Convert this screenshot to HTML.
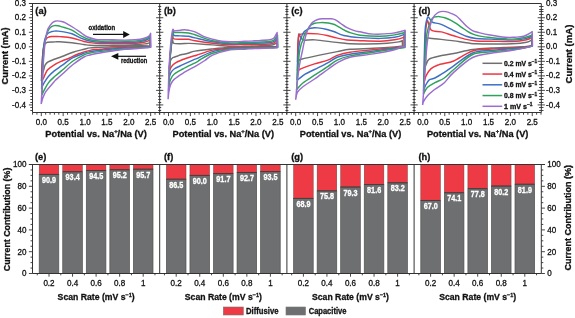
<!DOCTYPE html><html><head><meta charset="utf-8"><style>html,body{margin:0;padding:0;background:#fff;}body{width:575px;height:318px;overflow:hidden;}</style></head><body><svg width="575" height="318" viewBox="0 0 575 318" style="display:block;font-family:'Liberation Sans', sans-serif">
<rect width="575" height="318" fill="#fff"/>
<style>text{stroke:#111;stroke-width:0.3px;paint-order:stroke}text.w{stroke:#fff}</style>
<g style="will-change:transform">
<path d="M41.6,76C41.72,73.33 42.03,64.33 42.3,60C42.57,55.67 42.83,52.58 43.2,50C43.57,47.42 43.8,45.8 44.5,44.5C45.2,43.2 45.65,42.63 47.4,42.2C49.15,41.77 52.9,41.98 55,41.9C57.1,41.82 57.18,41.57 60,41.7C62.82,41.83 67.92,42.23 71.9,42.7C75.88,43.17 80.88,44.07 83.9,44.5C86.92,44.93 87.17,45.13 90,45.3C92.83,45.47 97.13,45.5 100.9,45.5C104.67,45.5 108.58,45.37 112.6,45.3C116.62,45.23 121.27,45.18 125,45.1C128.73,45.02 132.48,44.93 135,44.8C137.52,44.67 138.43,44.45 140.1,44.3C141.77,44.15 143.75,44.03 145,43.9C146.25,43.77 146.77,43.68 147.6,43.5C148.43,43.32 149.6,42.92 150,42.8L150.2,46.2C149.77,46.15 149.28,45.97 147.6,45.9C145.92,45.83 143.87,45.75 140.1,45.8C136.33,45.85 129.58,46.03 125,46.2C120.42,46.37 116.77,46.6 112.6,46.8C108.43,47 103.77,47.22 100,47.4C96.23,47.58 92.67,47.58 90,47.9C87.33,48.22 86.83,48.58 84,49.3C81.17,50.02 76.67,51 73,52.2C69.33,53.4 65.12,55.32 62,56.5C58.88,57.68 56.68,58.37 54.3,59.3C51.92,60.23 49.25,61.08 47.7,62.1C46.15,63.12 45.63,64.22 45,65.4C44.37,66.58 44.35,67.85 43.9,69.2C43.45,70.55 42.68,72.37 42.3,73.5C41.92,74.63 41.72,75.58 41.6,76" fill="none" stroke="#6f6f6f" stroke-width="1.45" stroke-linejoin="round"/>
<path d="M41.4,81C41.53,78.33 41.93,69.83 42.2,65C42.47,60.17 42.62,55.75 43,52C43.38,48.25 43.92,44.75 44.5,42.5C45.08,40.25 45.75,39.42 46.5,38.5C47.25,37.58 48.2,37.33 49,37C49.8,36.67 50.13,36.58 51.3,36.5C52.47,36.42 54.55,36.48 56,36.5C57.45,36.52 57.35,36.35 60,36.6C62.65,36.85 67.92,37.18 71.9,38C75.88,38.82 80.88,40.73 83.9,41.5C86.92,42.27 87.17,42.25 90,42.6C92.83,42.95 97.13,43.45 100.9,43.6C104.67,43.75 108.58,43.5 112.6,43.5C116.62,43.5 121.27,43.62 125,43.6C128.73,43.58 132.48,43.55 135,43.4C137.52,43.25 138.43,42.93 140.1,42.7C141.77,42.47 143.75,42.25 145,42C146.25,41.75 146.75,41.57 147.6,41.2C148.45,40.83 149.68,40.03 150.1,39.8L150.3,46.6C149.85,46.58 149.3,46.5 147.6,46.5C145.9,46.5 143.87,46.48 140.1,46.6C136.33,46.72 129.58,46.97 125,47.2C120.42,47.43 116.77,47.65 112.6,48C108.43,48.35 103.77,48.9 100,49.3C96.23,49.7 93.67,49.62 90,50.4C86.33,51.18 81.4,52.73 78,54C74.6,55.27 72.27,56.83 69.6,58C66.93,59.17 64.55,59.87 62,61C59.45,62.13 56.68,63.33 54.3,64.8C51.92,66.27 49.25,68.15 47.7,69.8C46.15,71.45 45.73,73.25 45,74.7C44.27,76.15 43.9,77.45 43.3,78.5C42.7,79.55 41.72,80.58 41.4,81" fill="none" stroke="#ec3540" stroke-width="1.45" stroke-linejoin="round"/>
<path d="M41.6,89C41.72,85.83 42.07,75.67 42.3,70C42.53,64.33 42.67,59.67 43,55C43.33,50.33 43.8,45.17 44.3,42C44.8,38.83 45.3,37.5 46,36C46.7,34.5 47.5,33.75 48.5,33C49.5,32.25 51.02,31.82 52,31.5C52.98,31.18 53.4,31.17 54.4,31.1C55.4,31.03 56.73,31.02 58,31.1C59.27,31.18 59.68,31.17 62,31.6C64.32,32.03 68.65,32.58 71.9,33.7C75.15,34.82 78.5,37.08 81.5,38.3C84.5,39.52 86.67,40.32 89.9,41C93.13,41.68 97.12,42.2 100.9,42.4C104.68,42.6 108.58,42.22 112.6,42.2C116.62,42.18 121.27,42.3 125,42.3C128.73,42.3 132.48,42.32 135,42.2C137.52,42.08 138.43,41.88 140.1,41.6C141.77,41.32 143.75,40.88 145,40.5C146.25,40.12 146.73,39.8 147.6,39.3C148.47,38.8 149.77,37.8 150.2,37.5L150.4,46.8C149.93,46.82 149.32,46.83 147.6,46.9C145.88,46.97 143.87,47.02 140.1,47.2C136.33,47.38 129.58,47.7 125,48C120.42,48.3 116.77,48.6 112.6,49C108.43,49.4 103.77,49.97 100,50.4C96.23,50.83 92.67,51.12 90,51.6C87.33,52.08 86.83,52.28 84,53.3C81.17,54.32 76.67,55.68 73,57.7C69.33,59.72 65.12,63.2 62,65.4C58.88,67.6 56.53,69.08 54.3,70.9C52.07,72.72 50.28,74.35 48.6,76.3C46.92,78.25 45.25,80.9 44.2,82.6C43.15,84.3 42.73,85.43 42.3,86.5C41.87,87.57 41.72,88.58 41.6,89" fill="none" stroke="#3f6fc3" stroke-width="1.45" stroke-linejoin="round"/>
<path d="M41.9,95.2C42.02,91.83 42.37,81.2 42.6,75C42.83,68.8 42.98,63 43.3,58C43.62,53 44.05,48.5 44.5,45C44.95,41.5 45.42,39.33 46,37C46.58,34.67 47.17,32.67 48,31C48.83,29.33 49.93,27.9 51,27C52.07,26.1 53.23,25.8 54.4,25.6C55.57,25.4 56.73,25.58 58,25.8C59.27,26.02 59.68,26.18 62,26.9C64.32,27.62 68.65,28.55 71.9,30.1C75.15,31.65 78.5,34.58 81.5,36.2C84.5,37.82 86.67,38.97 89.9,39.8C93.13,40.63 97.12,41 100.9,41.2C104.68,41.4 108.58,41 112.6,41C116.62,41 121.27,41.18 125,41.2C128.73,41.22 132.48,41.22 135,41.1C137.52,40.98 138.43,40.8 140.1,40.5C141.77,40.2 143.75,39.68 145,39.3C146.25,38.92 146.72,38.78 147.6,38.2C148.48,37.62 149.85,36.2 150.3,35.8L150.5,47C150.02,47.05 149.33,47.17 147.6,47.3C145.87,47.43 143.87,47.55 140.1,47.8C136.33,48.05 129.58,48.42 125,48.8C120.42,49.18 116.77,49.63 112.6,50.1C108.43,50.57 103.77,51.12 100,51.6C96.23,52.08 92.67,52.47 90,53C87.33,53.53 86.83,53.47 84,54.8C81.17,56.13 76.6,58.47 73,61C69.4,63.53 65.42,67.45 62.4,70C59.38,72.55 57.2,74.2 54.9,76.3C52.6,78.4 50.38,80.3 48.6,82.6C46.82,84.9 45.25,88.2 44.2,90.1C43.15,92 42.68,93.15 42.3,94C41.92,94.85 41.97,95 41.9,95.2" fill="none" stroke="#2ea25a" stroke-width="1.45" stroke-linejoin="round"/>
<path d="M41.2,104C41.37,100.83 41.83,92 42.2,85C42.57,78 42.97,68.67 43.4,62C43.83,55.33 44.28,49.67 44.8,45C45.32,40.33 45.93,36.77 46.5,34C47.07,31.23 47.27,30.25 48.2,28.4C49.13,26.55 50.97,24.08 52.1,22.9C53.23,21.72 54.08,21.63 55,21.3C55.92,20.97 56.6,20.88 57.6,20.9C58.6,20.92 59.7,21.07 61,21.4C62.3,21.73 63.35,21.88 65.4,22.9C67.45,23.92 70.62,25.8 73.3,27.5C75.98,29.2 79.13,31.52 81.5,33.1C83.87,34.68 85.25,35.98 87.5,37C89.75,38.02 92.77,38.73 95,39.2C97.23,39.67 97.97,39.7 100.9,39.8C103.83,39.9 108.58,39.75 112.6,39.8C116.62,39.85 121.27,40.1 125,40.1C128.73,40.1 132.48,39.95 135,39.8C137.52,39.65 138.43,39.5 140.1,39.2C141.77,38.9 143.75,38.37 145,38C146.25,37.63 146.85,37.42 147.6,37C148.35,36.58 149,36.12 149.5,35.5C150,34.88 150.42,33.67 150.6,33.3L150.8,47.3C150.27,47.37 149.38,47.52 147.6,47.7C145.82,47.88 143.87,48.13 140.1,48.4C136.33,48.67 129.58,48.87 125,49.3C120.42,49.73 116.77,50.38 112.6,51C108.43,51.62 103.77,52.33 100,53C96.23,53.67 92.67,54.33 90,55C87.33,55.67 86.83,55.42 84,57C81.17,58.58 75.87,62.33 73,64.5C70.13,66.67 68.98,68.03 66.8,70C64.62,71.97 61.8,74.58 59.9,76.3C58,78.02 56.65,79.05 55.4,80.3C54.15,81.55 53.97,81.95 52.4,83.8C50.83,85.65 47.58,89.08 46,91.4C44.42,93.72 43.7,95.6 42.9,97.7C42.1,99.8 41.48,102.95 41.2,104" fill="none" stroke="#9b6dce" stroke-width="1.45" stroke-linejoin="round"/>
<line x1="32.55" y1="112.5" x2="32.55" y2="114.7" stroke="#333" stroke-width="0.9"/>
<line x1="36.93" y1="112.5" x2="36.93" y2="114.7" stroke="#333" stroke-width="0.9"/>
<line x1="41.3" y1="112.5" x2="41.3" y2="116.1" stroke="#333" stroke-width="0.9"/>
<text x="41.3" y="125.4" font-size="8.5" font-weight="normal" text-anchor="middle" fill="#111" textLength="11.23" lengthAdjust="spacingAndGlyphs" >0.0</text>
<line x1="45.67" y1="112.5" x2="45.67" y2="114.7" stroke="#333" stroke-width="0.9"/>
<line x1="50.05" y1="112.5" x2="50.05" y2="114.7" stroke="#333" stroke-width="0.9"/>
<line x1="54.42" y1="112.5" x2="54.42" y2="114.7" stroke="#333" stroke-width="0.9"/>
<line x1="58.8" y1="112.5" x2="58.8" y2="114.7" stroke="#333" stroke-width="0.9"/>
<line x1="63.17" y1="112.5" x2="63.17" y2="116.1" stroke="#333" stroke-width="0.9"/>
<text x="63.17" y="125.4" font-size="8.5" font-weight="normal" text-anchor="middle" fill="#111" textLength="11.23" lengthAdjust="spacingAndGlyphs" >0.5</text>
<line x1="67.54" y1="112.5" x2="67.54" y2="114.7" stroke="#333" stroke-width="0.9"/>
<line x1="71.92" y1="112.5" x2="71.92" y2="114.7" stroke="#333" stroke-width="0.9"/>
<line x1="76.29" y1="112.5" x2="76.29" y2="114.7" stroke="#333" stroke-width="0.9"/>
<line x1="80.67" y1="112.5" x2="80.67" y2="114.7" stroke="#333" stroke-width="0.9"/>
<line x1="85.04" y1="112.5" x2="85.04" y2="116.1" stroke="#333" stroke-width="0.9"/>
<text x="85.04" y="125.4" font-size="8.5" font-weight="normal" text-anchor="middle" fill="#111" textLength="11.23" lengthAdjust="spacingAndGlyphs" >1.0</text>
<line x1="89.41" y1="112.5" x2="89.41" y2="114.7" stroke="#333" stroke-width="0.9"/>
<line x1="93.79" y1="112.5" x2="93.79" y2="114.7" stroke="#333" stroke-width="0.9"/>
<line x1="98.16" y1="112.5" x2="98.16" y2="114.7" stroke="#333" stroke-width="0.9"/>
<line x1="102.54" y1="112.5" x2="102.54" y2="114.7" stroke="#333" stroke-width="0.9"/>
<line x1="106.91" y1="112.5" x2="106.91" y2="116.1" stroke="#333" stroke-width="0.9"/>
<text x="106.91" y="125.4" font-size="8.5" font-weight="normal" text-anchor="middle" fill="#111" textLength="11.23" lengthAdjust="spacingAndGlyphs" >1.5</text>
<line x1="111.28" y1="112.5" x2="111.28" y2="114.7" stroke="#333" stroke-width="0.9"/>
<line x1="115.66" y1="112.5" x2="115.66" y2="114.7" stroke="#333" stroke-width="0.9"/>
<line x1="120.03" y1="112.5" x2="120.03" y2="114.7" stroke="#333" stroke-width="0.9"/>
<line x1="124.41" y1="112.5" x2="124.41" y2="114.7" stroke="#333" stroke-width="0.9"/>
<line x1="128.78" y1="112.5" x2="128.78" y2="116.1" stroke="#333" stroke-width="0.9"/>
<text x="128.78" y="125.4" font-size="8.5" font-weight="normal" text-anchor="middle" fill="#111" textLength="11.23" lengthAdjust="spacingAndGlyphs" >2.0</text>
<line x1="133.15" y1="112.5" x2="133.15" y2="114.7" stroke="#333" stroke-width="0.9"/>
<line x1="137.53" y1="112.5" x2="137.53" y2="114.7" stroke="#333" stroke-width="0.9"/>
<line x1="141.9" y1="112.5" x2="141.9" y2="114.7" stroke="#333" stroke-width="0.9"/>
<line x1="146.28" y1="112.5" x2="146.28" y2="114.7" stroke="#333" stroke-width="0.9"/>
<line x1="150.65" y1="112.5" x2="150.65" y2="116.1" stroke="#333" stroke-width="0.9"/>
<text x="150.65" y="125.4" font-size="8.5" font-weight="normal" text-anchor="middle" fill="#111" textLength="11.23" lengthAdjust="spacingAndGlyphs" >2.5</text>
<line x1="155.02" y1="112.5" x2="155.02" y2="114.7" stroke="#333" stroke-width="0.9"/>
<line x1="159.4" y1="112.5" x2="159.4" y2="114.7" stroke="#333" stroke-width="0.9"/>
<text x="96.1" y="136.8" font-size="9.8" font-weight="bold" text-anchor="middle" fill="#111" textLength="101.5" lengthAdjust="spacingAndGlyphs">Potential vs. Na<tspan dy="-3.6" font-size="6.2">+</tspan><tspan dy="3.6">/Na (V)</tspan></text>
<text x="35.3" y="14" font-size="9.3" font-weight="bold" text-anchor="start" fill="#111" >(a)</text>
<path d="M169.2,69C169.37,66.67 169.82,59 170.2,55C170.58,51 171.1,47.42 171.5,45C171.9,42.58 172.22,40.78 172.6,40.5C172.98,40.22 172.5,42.77 173.8,43.3C175.1,43.83 177.95,43.68 180.4,43.7C182.85,43.72 186.07,43.42 188.5,43.4C190.93,43.38 190.98,43.35 195,43.6C199.02,43.85 206.73,44.43 212.6,44.9C218.47,45.37 224.92,46.17 230.2,46.4C235.48,46.63 240.17,46.37 244.3,46.3C248.43,46.23 250.75,46.17 255,46C259.25,45.83 266.63,45.55 269.8,45.3C272.97,45.05 272.8,44.97 274,44.5C275.2,44.03 276.5,42.83 277,42.5L277.2,46.8C275.97,46.77 273.5,46.62 269.8,46.6C266.1,46.58 259.25,46.68 255,46.7C250.75,46.72 248.43,46.62 244.3,46.7C240.17,46.78 235.48,46.83 230.2,47.2C224.92,47.57 218.47,48.25 212.6,48.9C206.73,49.55 199.12,50.37 195,51.1C190.88,51.83 190.25,52.68 187.9,53.3C185.55,53.92 182.62,54.35 180.9,54.8C179.18,55.25 178.75,55.6 177.6,56C176.45,56.4 174.87,56.87 174,57.2C173.13,57.53 172.93,57.53 172.4,58C171.87,58.47 171.23,59.17 170.8,60C170.37,60.83 170.07,61.5 169.8,63C169.53,64.5 169.3,68 169.2,69" fill="none" stroke="#6f6f6f" stroke-width="1.45" stroke-linejoin="round"/>
<path d="M169,78C169.17,75 169.62,65.5 170,60C170.38,54.5 170.87,49 171.3,45C171.73,41 172.18,37.03 172.6,36C173.02,34.97 172.5,38.27 173.8,38.8C175.1,39.33 177.95,39.12 180.4,39.2C182.85,39.28 186.07,39.05 188.5,39.3C190.93,39.55 190.98,40.05 195,40.7C199.02,41.35 206.73,42.53 212.6,43.2C218.47,43.87 224.92,44.48 230.2,44.7C235.48,44.92 240.17,44.55 244.3,44.5C248.43,44.45 250.75,44.48 255,44.4C259.25,44.32 266.63,44.23 269.8,44C272.97,43.77 272.77,43.67 274,43C275.23,42.33 276.67,40.5 277.2,40L277.4,47C276.13,47 273.53,46.97 269.8,47C266.07,47.03 259.25,47.13 255,47.2C250.75,47.27 248.43,47.27 244.3,47.4C240.17,47.53 235.48,47.55 230.2,48C224.92,48.45 218.2,48.9 212.6,50.1C207,51.3 199.8,54.22 196.6,55.2C193.4,56.18 195.7,55.28 193.4,56C191.1,56.72 186.02,58.2 182.8,59.5C179.58,60.8 176.13,62.35 174.1,63.8C172.07,65.25 171.4,66.75 170.6,68.2C169.8,69.65 169.57,70.87 169.3,72.5C169.03,74.13 169.05,77.08 169,78" fill="none" stroke="#ec3540" stroke-width="1.45" stroke-linejoin="round"/>
<path d="M168.8,84C168.97,80.33 169.4,68.5 169.8,62C170.2,55.5 170.67,49.67 171.2,45C171.73,40.33 172.5,35.58 173,34C173.5,32.42 172.97,35.18 174.2,35.5C175.43,35.82 178.02,35.77 180.4,35.9C182.78,36.03 186.07,35.97 188.5,36.3C190.93,36.63 190.98,36.98 195,37.9C199.02,38.82 206.73,40.82 212.6,41.8C218.47,42.78 224.92,43.53 230.2,43.8C235.48,44.07 240.17,43.48 244.3,43.4C248.43,43.32 250.75,43.45 255,43.3C259.25,43.15 266.63,42.8 269.8,42.5C272.97,42.2 272.73,42.25 274,41.5C275.27,40.75 276.83,38.58 277.4,38L277.6,47.2C276.3,47.22 273.57,47.22 269.8,47.3C266.03,47.38 259.25,47.58 255,47.7C250.75,47.82 248.43,47.83 244.3,48C240.17,48.17 235.48,48.1 230.2,48.7C224.92,49.3 218.2,49.95 212.6,51.6C207,53.25 199.8,57.23 196.6,58.6C193.4,59.97 195.7,58.78 193.4,59.8C191.1,60.82 186.02,63.17 182.8,64.7C179.58,66.23 176.13,67.57 174.1,69C172.07,70.43 171.4,71.85 170.6,73.3C169.8,74.75 169.6,75.92 169.3,77.7C169,79.48 168.88,82.95 168.8,84" fill="none" stroke="#3f6fc3" stroke-width="1.45" stroke-linejoin="round"/>
<path d="M168.6,91C168.78,86.67 169.27,72.67 169.7,65C170.13,57.33 170.65,50.53 171.2,45C171.75,39.47 172.43,33.87 173,31.8C173.57,29.73 173.37,32.48 174.6,32.6C175.83,32.72 178.08,32.43 180.4,32.5C182.72,32.57 186.07,32.62 188.5,33C190.93,33.38 190.98,33.5 195,34.8C199.02,36.1 206.73,39.45 212.6,40.8C218.47,42.15 224.92,42.62 230.2,42.9C235.48,43.18 240.17,42.6 244.3,42.5C248.43,42.4 250.75,42.47 255,42.3C259.25,42.13 266.63,41.88 269.8,41.5C272.97,41.12 272.72,41.08 274,40C275.28,38.92 276.92,35.83 277.5,35L277.7,47.4C276.38,47.45 273.58,47.6 269.8,47.7C266.02,47.8 259.25,47.87 255,48C250.75,48.13 248.43,48.3 244.3,48.5C240.17,48.7 235.48,48.4 230.2,49.2C224.92,50 217.68,51.5 212.6,53.3C207.52,55.1 202.37,58.53 199.7,60C197.03,61.47 199.42,60.6 196.6,62.1C193.78,63.6 186.55,66.98 182.8,69C179.05,71.02 176.13,72.47 174.1,74.2C172.07,75.93 171.4,77.67 170.6,79.4C169.8,81.13 169.63,82.67 169.3,84.6C168.97,86.53 168.72,89.93 168.6,91" fill="none" stroke="#2ea25a" stroke-width="1.45" stroke-linejoin="round"/>
<path d="M168.1,99.3C168.25,94.42 168.58,79.05 169,70C169.42,60.95 170,51.63 170.6,45C171.2,38.37 171.93,32.53 172.6,30.2C173.27,27.87 173.3,31 174.6,31C175.9,31 178.73,30.4 180.4,30.2C182.07,30 183.25,29.8 184.6,29.8C185.95,29.8 186.77,29.85 188.5,30.2C190.23,30.55 192.5,30.87 195,31.9C197.5,32.93 200.57,35.18 203.5,36.4C206.43,37.62 209.52,38.4 212.6,39.2C215.68,40 219.07,40.78 222,41.2C224.93,41.62 226.48,41.68 230.2,41.7C233.92,41.72 240.17,41.45 244.3,41.3C248.43,41.15 250.75,41.05 255,40.8C259.25,40.55 266.63,40.27 269.8,39.8C272.97,39.33 272.78,39.22 274,38C275.22,36.78 276.58,33.42 277.1,32.5L277.4,47.8C276.13,47.85 273.53,47.98 269.8,48.1C266.07,48.22 259.25,48.32 255,48.5C250.75,48.68 248.43,48.98 244.3,49.2C240.17,49.42 235.48,48.82 230.2,49.8C224.92,50.78 216.83,53.32 212.6,55.1C208.37,56.88 207.47,58.75 204.8,60.5C202.13,62.25 200.27,63.47 196.6,65.6C192.93,67.73 186.55,71 182.8,73.3C179.05,75.6 176.13,77.52 174.1,79.4C172.07,81.28 171.47,82.58 170.6,84.6C169.73,86.62 169.32,89.05 168.9,91.5C168.48,93.95 168.23,98 168.1,99.3" fill="none" stroke="#9b6dce" stroke-width="1.45" stroke-linejoin="round"/>
<line x1="159.75" y1="112.5" x2="159.75" y2="114.7" stroke="#333" stroke-width="0.9"/>
<line x1="164.13" y1="112.5" x2="164.13" y2="114.7" stroke="#333" stroke-width="0.9"/>
<line x1="168.5" y1="112.5" x2="168.5" y2="116.1" stroke="#333" stroke-width="0.9"/>
<text x="168.5" y="125.4" font-size="8.5" font-weight="normal" text-anchor="middle" fill="#111" textLength="11.23" lengthAdjust="spacingAndGlyphs" >0.0</text>
<line x1="172.87" y1="112.5" x2="172.87" y2="114.7" stroke="#333" stroke-width="0.9"/>
<line x1="177.25" y1="112.5" x2="177.25" y2="114.7" stroke="#333" stroke-width="0.9"/>
<line x1="181.62" y1="112.5" x2="181.62" y2="114.7" stroke="#333" stroke-width="0.9"/>
<line x1="186" y1="112.5" x2="186" y2="114.7" stroke="#333" stroke-width="0.9"/>
<line x1="190.37" y1="112.5" x2="190.37" y2="116.1" stroke="#333" stroke-width="0.9"/>
<text x="190.37" y="125.4" font-size="8.5" font-weight="normal" text-anchor="middle" fill="#111" textLength="11.23" lengthAdjust="spacingAndGlyphs" >0.5</text>
<line x1="194.74" y1="112.5" x2="194.74" y2="114.7" stroke="#333" stroke-width="0.9"/>
<line x1="199.12" y1="112.5" x2="199.12" y2="114.7" stroke="#333" stroke-width="0.9"/>
<line x1="203.49" y1="112.5" x2="203.49" y2="114.7" stroke="#333" stroke-width="0.9"/>
<line x1="207.87" y1="112.5" x2="207.87" y2="114.7" stroke="#333" stroke-width="0.9"/>
<line x1="212.24" y1="112.5" x2="212.24" y2="116.1" stroke="#333" stroke-width="0.9"/>
<text x="212.24" y="125.4" font-size="8.5" font-weight="normal" text-anchor="middle" fill="#111" textLength="11.23" lengthAdjust="spacingAndGlyphs" >1.0</text>
<line x1="216.61" y1="112.5" x2="216.61" y2="114.7" stroke="#333" stroke-width="0.9"/>
<line x1="220.99" y1="112.5" x2="220.99" y2="114.7" stroke="#333" stroke-width="0.9"/>
<line x1="225.36" y1="112.5" x2="225.36" y2="114.7" stroke="#333" stroke-width="0.9"/>
<line x1="229.74" y1="112.5" x2="229.74" y2="114.7" stroke="#333" stroke-width="0.9"/>
<line x1="234.11" y1="112.5" x2="234.11" y2="116.1" stroke="#333" stroke-width="0.9"/>
<text x="234.11" y="125.4" font-size="8.5" font-weight="normal" text-anchor="middle" fill="#111" textLength="11.23" lengthAdjust="spacingAndGlyphs" >1.5</text>
<line x1="238.48" y1="112.5" x2="238.48" y2="114.7" stroke="#333" stroke-width="0.9"/>
<line x1="242.86" y1="112.5" x2="242.86" y2="114.7" stroke="#333" stroke-width="0.9"/>
<line x1="247.23" y1="112.5" x2="247.23" y2="114.7" stroke="#333" stroke-width="0.9"/>
<line x1="251.61" y1="112.5" x2="251.61" y2="114.7" stroke="#333" stroke-width="0.9"/>
<line x1="255.98" y1="112.5" x2="255.98" y2="116.1" stroke="#333" stroke-width="0.9"/>
<text x="255.98" y="125.4" font-size="8.5" font-weight="normal" text-anchor="middle" fill="#111" textLength="11.23" lengthAdjust="spacingAndGlyphs" >2.0</text>
<line x1="260.35" y1="112.5" x2="260.35" y2="114.7" stroke="#333" stroke-width="0.9"/>
<line x1="264.73" y1="112.5" x2="264.73" y2="114.7" stroke="#333" stroke-width="0.9"/>
<line x1="269.1" y1="112.5" x2="269.1" y2="114.7" stroke="#333" stroke-width="0.9"/>
<line x1="273.48" y1="112.5" x2="273.48" y2="114.7" stroke="#333" stroke-width="0.9"/>
<line x1="277.85" y1="112.5" x2="277.85" y2="116.1" stroke="#333" stroke-width="0.9"/>
<text x="277.85" y="125.4" font-size="8.5" font-weight="normal" text-anchor="middle" fill="#111" textLength="11.23" lengthAdjust="spacingAndGlyphs" >2.5</text>
<line x1="282.22" y1="112.5" x2="282.22" y2="114.7" stroke="#333" stroke-width="0.9"/>
<line x1="286.6" y1="112.5" x2="286.6" y2="114.7" stroke="#333" stroke-width="0.9"/>
<text x="223.3" y="136.8" font-size="9.8" font-weight="bold" text-anchor="middle" fill="#111" textLength="101.5" lengthAdjust="spacingAndGlyphs">Potential vs. Na<tspan dy="-3.6" font-size="6.2">+</tspan><tspan dy="3.6">/Na (V)</tspan></text>
<text x="164" y="14" font-size="9.3" font-weight="bold" text-anchor="start" fill="#111" >(b)</text>
<path d="M297.5,62C297.55,59.17 297.63,49.33 297.8,45C297.97,40.67 298.3,37.83 298.5,36C298.7,34.17 298.67,33.83 299,34C299.33,34.17 299.92,36.08 300.5,37C301.08,37.92 301.73,38.97 302.5,39.5C303.27,40.03 302.98,40.13 305.1,40.2C307.22,40.27 310.38,39.58 315.2,39.9C320.02,40.22 329.03,41.53 334,42.1C338.97,42.67 342.33,43.03 345,43.3C347.67,43.57 346.47,43.58 350,43.7C353.53,43.82 359.97,44.07 366.2,44C372.43,43.93 381.98,43.65 387.4,43.3C392.82,42.95 396.22,42.37 398.7,41.9C401.18,41.43 401.7,40.73 402.3,40.5L402.5,46C402.12,46.03 401.53,46.05 400.2,46.2C398.87,46.35 398.98,46.55 394.5,46.9C390.02,47.25 380.72,47.9 373.3,48.3C365.88,48.7 356.02,48.75 350,49.3C343.98,49.85 342.48,50.58 337.2,51.6C331.92,52.62 324.28,54.13 318.3,55.4C312.32,56.67 304.45,58.42 301.3,59.2C298.15,59.98 300.03,59.63 299.4,60.1C298.77,60.57 297.82,61.68 297.5,62" fill="none" stroke="#6f6f6f" stroke-width="1.45" stroke-linejoin="round"/>
<path d="M297.5,71C297.55,67.5 297.63,55.5 297.8,50C297.97,44.5 298.25,40.5 298.5,38C298.75,35.5 299.05,35.6 299.3,35C299.55,34.4 299.37,34.58 300,34.4C300.63,34.22 301.72,34.07 303.1,33.9C304.48,33.73 305.87,33.4 308.3,33.4C310.73,33.4 314.57,33.55 317.7,33.9C320.83,34.25 323.97,34.83 327.1,35.5C330.23,36.17 333.18,37.15 336.5,37.9C339.82,38.65 343.08,39.53 347,40C350.92,40.47 354.43,40.5 360,40.7C365.57,40.9 374.65,41.35 380.4,41.2C386.15,41.05 390.73,40.38 394.5,39.8C398.27,39.22 401.42,38.33 403,37.7C404.58,37.07 403.83,36.28 404,36L404,47C402.42,47.1 399.62,47.15 394.5,47.6C389.38,48.05 380.72,48.93 373.3,49.7C365.88,50.47 356.02,51.25 350,52.2C343.98,53.15 340.92,54.08 337.2,55.4C333.48,56.72 331.48,58.68 327.7,60.1C323.92,61.52 318.9,62.48 314.5,63.9C310.1,65.32 303.97,67.5 301.3,68.6C298.63,69.7 299.13,70.1 298.5,70.5C297.87,70.9 297.67,70.92 297.5,71" fill="none" stroke="#ec3540" stroke-width="1.45" stroke-linejoin="round"/>
<path d="M297,80C297.17,75.83 297.58,61.17 298,55C298.42,48.83 299,45.82 299.5,43C300,40.18 300.42,39.68 301,38.1C301.58,36.52 302.3,34.72 303,33.5C303.7,32.28 303.97,31.68 305.2,30.8C306.43,29.92 308.32,28.68 310.4,28.2C312.48,27.72 315.08,27.73 317.7,27.9C320.32,28.07 323.32,28.55 326.1,29.2C328.88,29.85 331.45,30.75 334.4,31.8C337.35,32.85 339.53,34.53 343.8,35.5C348.07,36.47 353.9,37.12 360,37.6C366.1,38.08 374.65,38.45 380.4,38.4C386.15,38.35 390.73,37.88 394.5,37.3C398.27,36.72 401.33,35.62 403,34.9C404.67,34.18 404.25,33.32 404.5,33L404.5,47.2C402.83,47.38 399.7,47.65 394.5,48.3C389.3,48.95 380.72,50.12 373.3,51.1C365.88,52.08 356.02,53.17 350,54.2C343.98,55.23 340.92,55.85 337.2,57.3C333.48,58.75 331.48,60.87 327.7,62.9C323.92,64.93 318.27,67.62 314.5,69.5C310.73,71.38 307.77,72.58 305.1,74.2C302.43,75.82 299.85,78.23 298.5,79.2C297.15,80.17 297.25,79.87 297,80" fill="none" stroke="#3f6fc3" stroke-width="1.45" stroke-linejoin="round"/>
<path d="M296.6,90.3C296.8,86.92 297.32,76.38 297.8,70C298.28,63.62 298.92,56.33 299.5,52C300.08,47.67 300.87,45.67 301.3,44C301.73,42.33 301.65,43.33 302.1,42C302.55,40.67 303.3,37.7 304,36C304.7,34.3 305.23,33.53 306.3,31.8C307.37,30.07 309.02,27.02 310.4,25.6C311.78,24.18 312.85,23.8 314.6,23.3C316.35,22.8 318.63,22.65 320.9,22.6C323.17,22.55 325.95,22.68 328.2,23C330.45,23.32 332.15,23.55 334.4,24.5C336.65,25.45 339.27,27.4 341.7,28.7C344.13,30 345.95,31.22 349,32.3C352.05,33.38 354.77,34.53 360,35.2C365.23,35.87 374.65,36.35 380.4,36.3C386.15,36.25 390.73,35.45 394.5,34.9C398.27,34.35 401.28,33.57 403,33C404.72,32.43 404.5,31.75 404.8,31.5L404.8,47.5C403.08,47.75 399.75,48.22 394.5,49C389.25,49.78 380.72,51.05 373.3,52.2C365.88,53.35 356.02,54.58 350,55.9C343.98,57.22 340.92,58.3 337.2,60.1C333.48,61.9 331.48,64.18 327.7,66.7C323.92,69.22 318.58,72.53 314.5,75.2C310.42,77.87 305.95,80.57 303.2,82.7C300.45,84.83 299.1,86.73 298,88C296.9,89.27 296.83,89.92 296.6,90.3" fill="none" stroke="#2ea25a" stroke-width="1.45" stroke-linejoin="round"/>
<path d="M295.7,99.7C295.92,97.25 296.37,90.78 297,85C297.63,79.22 298.57,70.83 299.5,65C300.43,59.17 301.82,53.83 302.6,50C303.38,46.17 303.57,44.75 304.2,42C304.83,39.25 305.72,35.72 306.4,33.5C307.08,31.28 307.62,30.12 308.3,28.7C308.98,27.28 309.8,26.05 310.5,25C311.2,23.95 311.3,23.32 312.5,22.4C313.7,21.48 315.95,20.1 317.7,19.5C319.45,18.9 320.73,18.92 323,18.8C325.27,18.68 329.22,18.63 331.3,18.8C333.38,18.97 333.93,19.02 335.5,19.8C337.07,20.58 338.78,22.18 340.7,23.5C342.62,24.82 344.73,26.52 347,27.7C349.27,28.88 352.13,29.92 354.3,30.6C356.47,31.28 356.83,31.22 360,31.8C363.17,32.38 368.02,33.83 373.3,34.1C378.58,34.37 386.98,33.87 391.7,33.4C396.42,32.93 399.37,31.83 401.6,31.3C403.83,30.77 404.52,30.38 405.1,30.2L405.3,46.9C404.57,46.9 402.7,46.43 400.9,46.9C399.1,47.37 399.1,48.53 394.5,49.7C389.9,50.87 380.72,52.63 373.3,53.9C365.88,55.17 356.02,55.8 350,57.3C343.98,58.8 340.92,60.87 337.2,62.9C333.48,64.93 331.48,66.82 327.7,69.5C323.92,72.18 318.58,76.17 314.5,79C310.42,81.83 306.03,84.3 303.2,86.5C300.37,88.7 298.75,90 297.5,92.2C296.25,94.4 296,98.45 295.7,99.7" fill="none" stroke="#9b6dce" stroke-width="1.45" stroke-linejoin="round"/>
<line x1="286.95" y1="112.5" x2="286.95" y2="114.7" stroke="#333" stroke-width="0.9"/>
<line x1="291.33" y1="112.5" x2="291.33" y2="114.7" stroke="#333" stroke-width="0.9"/>
<line x1="295.7" y1="112.5" x2="295.7" y2="116.1" stroke="#333" stroke-width="0.9"/>
<text x="295.7" y="125.4" font-size="8.5" font-weight="normal" text-anchor="middle" fill="#111" textLength="11.23" lengthAdjust="spacingAndGlyphs" >0.0</text>
<line x1="300.07" y1="112.5" x2="300.07" y2="114.7" stroke="#333" stroke-width="0.9"/>
<line x1="304.45" y1="112.5" x2="304.45" y2="114.7" stroke="#333" stroke-width="0.9"/>
<line x1="308.82" y1="112.5" x2="308.82" y2="114.7" stroke="#333" stroke-width="0.9"/>
<line x1="313.2" y1="112.5" x2="313.2" y2="114.7" stroke="#333" stroke-width="0.9"/>
<line x1="317.57" y1="112.5" x2="317.57" y2="116.1" stroke="#333" stroke-width="0.9"/>
<text x="317.57" y="125.4" font-size="8.5" font-weight="normal" text-anchor="middle" fill="#111" textLength="11.23" lengthAdjust="spacingAndGlyphs" >0.5</text>
<line x1="321.94" y1="112.5" x2="321.94" y2="114.7" stroke="#333" stroke-width="0.9"/>
<line x1="326.32" y1="112.5" x2="326.32" y2="114.7" stroke="#333" stroke-width="0.9"/>
<line x1="330.69" y1="112.5" x2="330.69" y2="114.7" stroke="#333" stroke-width="0.9"/>
<line x1="335.07" y1="112.5" x2="335.07" y2="114.7" stroke="#333" stroke-width="0.9"/>
<line x1="339.44" y1="112.5" x2="339.44" y2="116.1" stroke="#333" stroke-width="0.9"/>
<text x="339.44" y="125.4" font-size="8.5" font-weight="normal" text-anchor="middle" fill="#111" textLength="11.23" lengthAdjust="spacingAndGlyphs" >1.0</text>
<line x1="343.81" y1="112.5" x2="343.81" y2="114.7" stroke="#333" stroke-width="0.9"/>
<line x1="348.19" y1="112.5" x2="348.19" y2="114.7" stroke="#333" stroke-width="0.9"/>
<line x1="352.56" y1="112.5" x2="352.56" y2="114.7" stroke="#333" stroke-width="0.9"/>
<line x1="356.94" y1="112.5" x2="356.94" y2="114.7" stroke="#333" stroke-width="0.9"/>
<line x1="361.31" y1="112.5" x2="361.31" y2="116.1" stroke="#333" stroke-width="0.9"/>
<text x="361.31" y="125.4" font-size="8.5" font-weight="normal" text-anchor="middle" fill="#111" textLength="11.23" lengthAdjust="spacingAndGlyphs" >1.5</text>
<line x1="365.68" y1="112.5" x2="365.68" y2="114.7" stroke="#333" stroke-width="0.9"/>
<line x1="370.06" y1="112.5" x2="370.06" y2="114.7" stroke="#333" stroke-width="0.9"/>
<line x1="374.43" y1="112.5" x2="374.43" y2="114.7" stroke="#333" stroke-width="0.9"/>
<line x1="378.81" y1="112.5" x2="378.81" y2="114.7" stroke="#333" stroke-width="0.9"/>
<line x1="383.18" y1="112.5" x2="383.18" y2="116.1" stroke="#333" stroke-width="0.9"/>
<text x="383.18" y="125.4" font-size="8.5" font-weight="normal" text-anchor="middle" fill="#111" textLength="11.23" lengthAdjust="spacingAndGlyphs" >2.0</text>
<line x1="387.55" y1="112.5" x2="387.55" y2="114.7" stroke="#333" stroke-width="0.9"/>
<line x1="391.93" y1="112.5" x2="391.93" y2="114.7" stroke="#333" stroke-width="0.9"/>
<line x1="396.3" y1="112.5" x2="396.3" y2="114.7" stroke="#333" stroke-width="0.9"/>
<line x1="400.68" y1="112.5" x2="400.68" y2="114.7" stroke="#333" stroke-width="0.9"/>
<line x1="405.05" y1="112.5" x2="405.05" y2="116.1" stroke="#333" stroke-width="0.9"/>
<text x="405.05" y="125.4" font-size="8.5" font-weight="normal" text-anchor="middle" fill="#111" textLength="11.23" lengthAdjust="spacingAndGlyphs" >2.5</text>
<line x1="409.42" y1="112.5" x2="409.42" y2="114.7" stroke="#333" stroke-width="0.9"/>
<line x1="413.8" y1="112.5" x2="413.8" y2="114.7" stroke="#333" stroke-width="0.9"/>
<text x="350.5" y="136.8" font-size="9.8" font-weight="bold" text-anchor="middle" fill="#111" textLength="101.5" lengthAdjust="spacingAndGlyphs">Potential vs. Na<tspan dy="-3.6" font-size="6.2">+</tspan><tspan dy="3.6">/Na (V)</tspan></text>
<text x="291.2" y="14" font-size="9.3" font-weight="bold" text-anchor="start" fill="#111" >(c)</text>
<path d="M425.5,66C425.55,63.33 425.7,54.33 425.8,50C425.9,45.67 425.9,41.97 426.1,40C426.3,38.03 426.38,38.5 427,38.2C427.62,37.9 427.43,38 429.8,38.2C432.17,38.4 436.17,38.82 441.2,39.4C446.23,39.98 455.2,41.05 460,41.7C464.8,42.35 467.33,42.95 470,43.3C472.67,43.65 472.47,43.68 476,43.8C479.53,43.92 485.13,44 491.2,44C497.27,44 506.5,44.08 512.4,43.8C518.3,43.52 523.42,42.93 526.6,42.3C529.78,41.67 530.68,40.38 531.5,40L532,45.5C531.1,45.65 529.87,46.12 526.6,46.4C523.33,46.68 518.3,46.93 512.4,47.2C506.5,47.47 497.83,47.62 491.2,48C484.57,48.38 478.85,48.58 472.6,49.5C466.35,50.42 459.37,52.37 453.7,53.5C448.03,54.63 442.68,55.35 438.6,56.3C434.52,57.25 431.23,57.93 429.2,59.2C427.17,60.47 427.02,62.77 426.4,63.9C425.78,65.03 425.65,65.65 425.5,66" fill="none" stroke="#6f6f6f" stroke-width="1.45" stroke-linejoin="round"/>
<path d="M424.3,82C424.38,76.67 424.6,58.17 424.8,50C425,41.83 425.22,37.33 425.5,33C425.78,28.67 426.2,26.07 426.5,24C426.8,21.93 427,20.85 427.3,20.6C427.6,20.35 427.98,21.67 428.3,22.5C428.62,23.33 428.73,24.35 429.2,25.6C429.67,26.85 430.13,29.05 431.1,30C432.07,30.95 433.32,30.98 435,31.3C436.68,31.62 438.08,31.17 441.2,31.9C444.32,32.63 449.52,34.45 453.7,35.7C457.88,36.95 462.58,38.52 466.3,39.4C470.02,40.28 471.85,40.7 476,41C480.15,41.3 485.13,41.1 491.2,41.2C497.27,41.3 506.5,41.83 512.4,41.6C518.3,41.37 523.37,40.48 526.6,39.8C529.83,39.12 530.93,37.88 531.8,37.5L532,45.8C531.1,45.97 529.87,46.43 526.6,46.8C523.33,47.17 518.3,47.63 512.4,48C506.5,48.37 497.83,48.5 491.2,49C484.57,49.5 478.85,49 472.6,51C466.35,53 458.47,58.92 453.7,61C448.93,63.08 446.52,62.87 444,63.5C441.48,64.13 440.75,63.95 438.6,64.8C436.45,65.65 433.13,66.87 431.1,68.6C429.07,70.33 427.5,73.17 426.4,75.2C425.3,77.23 424.85,79.67 424.5,80.8C424.15,81.93 424.33,81.8 424.3,82" fill="none" stroke="#ec3540" stroke-width="1.45" stroke-linejoin="round"/>
<path d="M423.5,91.2C423.58,87.67 423.82,77.7 424,70C424.18,62.3 424.37,52.18 424.6,45C424.83,37.82 424.95,31.38 425.4,26.9C425.85,22.42 426.77,19.68 427.3,18.1C427.83,16.52 428.07,17.08 428.6,17.4C429.13,17.72 429.77,19.15 430.5,20C431.23,20.85 431.22,21.77 433,22.5C434.78,23.23 437.75,23.05 441.2,24.4C444.65,25.75 449.52,28.62 453.7,30.6C457.88,32.58 462.58,34.98 466.3,36.3C470.02,37.62 471.85,38.03 476,38.5C480.15,38.97 485.13,38.83 491.2,39.1C497.27,39.37 506.5,40.22 512.4,40.1C518.3,39.98 523.33,39.17 526.6,38.4C529.87,37.63 531.1,35.98 532,35.5L532.2,46C531.27,46.2 529.9,46.77 526.6,47.2C523.3,47.63 518.3,48.07 512.4,48.6C506.5,49.13 497.83,49.67 491.2,50.4C484.57,51.13 478.85,50.43 472.6,53C466.35,55.57 458.42,62.57 453.7,65.8C448.98,69.03 447.43,70.37 444.3,72.4C441.17,74.43 437.42,76.75 434.9,78C432.38,79.25 430.78,78.63 429.2,79.9C427.62,81.17 426.35,83.72 425.4,85.6C424.45,87.48 423.82,90.27 423.5,91.2" fill="none" stroke="#3f6fc3" stroke-width="1.45" stroke-linejoin="round"/>
<path d="M423.5,94.1C423.67,90.08 424.07,79.12 424.5,70C424.93,60.88 425.42,46.58 426.1,39.4C426.78,32.22 427.55,30.45 428.6,26.9C429.65,23.35 430.93,19.82 432.4,18.1C433.87,16.38 436.13,16.82 437.4,16.6C438.67,16.38 438.65,16.57 440,16.8C441.35,17.03 443.67,17.4 445.5,18C447.33,18.6 449.17,19.45 451,20.4C452.83,21.35 454.67,22.5 456.5,23.7C458.33,24.9 460.17,26.32 462,27.6C463.83,28.88 465.67,30.3 467.5,31.4C469.33,32.5 471.17,33.47 473,34.2C474.83,34.93 475.67,35.25 478.5,35.8C481.33,36.35 484.35,36.95 490,37.5C495.65,38.05 506.3,39.18 512.4,39.1C518.5,39.02 523.42,37.63 526.6,37C529.78,36.37 530.55,35.8 531.5,35.3C532.45,34.8 532.17,34.22 532.3,34L532.4,46.1C531.43,46.32 529.93,46.8 526.6,47.4C523.27,48 518.3,48.97 512.4,49.7C506.5,50.43 497.83,51 491.2,51.8C484.57,52.6 478.85,51.55 472.6,54.5C466.35,57.45 458.42,65.58 453.7,69.5C448.98,73.42 447.43,75.8 444.3,78C441.17,80.2 437.73,81.12 434.9,82.7C432.07,84.28 429.2,85.6 427.3,87.5C425.4,89.4 424.13,93 423.5,94.1" fill="none" stroke="#2ea25a" stroke-width="1.45" stroke-linejoin="round"/>
<path d="M422.6,105C422.92,100.83 423.82,89.5 424.5,80C425.18,70.5 425.82,56.85 426.7,48C427.58,39.15 428.65,32.1 429.8,26.9C430.95,21.7 432.33,19.12 433.6,16.8C434.87,14.48 436.25,13.87 437.4,13C438.55,12.13 439.15,11.83 440.5,11.6C441.85,11.37 443.75,11.32 445.5,11.6C447.25,11.88 449.17,12.57 451,13.3C452.83,14.03 454.67,14.63 456.5,16C458.33,17.37 460.17,19.67 462,21.5C463.83,23.33 465.67,25.43 467.5,27C469.33,28.57 471.17,29.98 473,30.9C474.83,31.82 475.67,31.82 478.5,32.5C481.33,33.18 485.52,34.2 490,35C494.48,35.8 501.23,36.93 505.4,37.3C509.57,37.67 511.95,37.37 515,37.2C518.05,37.03 521.07,37.05 523.7,36.3C526.33,35.55 529.38,33.48 530.8,32.7C532.22,31.92 531.97,31.78 532.2,31.6L532.4,46.2C532.13,46.2 531.77,45.97 530.8,46.2C529.83,46.43 529.67,46.9 526.6,47.6C523.53,48.3 518.3,49.47 512.4,50.4C506.5,51.33 497.83,52.02 491.2,53.2C484.57,54.38 478.85,54.3 472.6,57.5C466.35,60.7 458.42,68.2 453.7,72.4C448.98,76.6 447.43,79.88 444.3,82.7C441.17,85.52 437.73,87.1 434.9,89.3C432.07,91.5 429.2,93.85 427.3,95.9C425.4,97.95 424.28,100.08 423.5,101.6C422.72,103.12 422.75,104.43 422.6,105" fill="none" stroke="#9b6dce" stroke-width="1.45" stroke-linejoin="round"/>
<line x1="414.15" y1="112.5" x2="414.15" y2="114.7" stroke="#333" stroke-width="0.9"/>
<line x1="418.53" y1="112.5" x2="418.53" y2="114.7" stroke="#333" stroke-width="0.9"/>
<line x1="422.9" y1="112.5" x2="422.9" y2="116.1" stroke="#333" stroke-width="0.9"/>
<text x="422.9" y="125.4" font-size="8.5" font-weight="normal" text-anchor="middle" fill="#111" textLength="11.23" lengthAdjust="spacingAndGlyphs" >0.0</text>
<line x1="427.27" y1="112.5" x2="427.27" y2="114.7" stroke="#333" stroke-width="0.9"/>
<line x1="431.65" y1="112.5" x2="431.65" y2="114.7" stroke="#333" stroke-width="0.9"/>
<line x1="436.02" y1="112.5" x2="436.02" y2="114.7" stroke="#333" stroke-width="0.9"/>
<line x1="440.4" y1="112.5" x2="440.4" y2="114.7" stroke="#333" stroke-width="0.9"/>
<line x1="444.77" y1="112.5" x2="444.77" y2="116.1" stroke="#333" stroke-width="0.9"/>
<text x="444.77" y="125.4" font-size="8.5" font-weight="normal" text-anchor="middle" fill="#111" textLength="11.23" lengthAdjust="spacingAndGlyphs" >0.5</text>
<line x1="449.14" y1="112.5" x2="449.14" y2="114.7" stroke="#333" stroke-width="0.9"/>
<line x1="453.52" y1="112.5" x2="453.52" y2="114.7" stroke="#333" stroke-width="0.9"/>
<line x1="457.89" y1="112.5" x2="457.89" y2="114.7" stroke="#333" stroke-width="0.9"/>
<line x1="462.27" y1="112.5" x2="462.27" y2="114.7" stroke="#333" stroke-width="0.9"/>
<line x1="466.64" y1="112.5" x2="466.64" y2="116.1" stroke="#333" stroke-width="0.9"/>
<text x="466.64" y="125.4" font-size="8.5" font-weight="normal" text-anchor="middle" fill="#111" textLength="11.23" lengthAdjust="spacingAndGlyphs" >1.0</text>
<line x1="471.01" y1="112.5" x2="471.01" y2="114.7" stroke="#333" stroke-width="0.9"/>
<line x1="475.39" y1="112.5" x2="475.39" y2="114.7" stroke="#333" stroke-width="0.9"/>
<line x1="479.76" y1="112.5" x2="479.76" y2="114.7" stroke="#333" stroke-width="0.9"/>
<line x1="484.14" y1="112.5" x2="484.14" y2="114.7" stroke="#333" stroke-width="0.9"/>
<line x1="488.51" y1="112.5" x2="488.51" y2="116.1" stroke="#333" stroke-width="0.9"/>
<text x="488.51" y="125.4" font-size="8.5" font-weight="normal" text-anchor="middle" fill="#111" textLength="11.23" lengthAdjust="spacingAndGlyphs" >1.5</text>
<line x1="492.88" y1="112.5" x2="492.88" y2="114.7" stroke="#333" stroke-width="0.9"/>
<line x1="497.26" y1="112.5" x2="497.26" y2="114.7" stroke="#333" stroke-width="0.9"/>
<line x1="501.63" y1="112.5" x2="501.63" y2="114.7" stroke="#333" stroke-width="0.9"/>
<line x1="506.01" y1="112.5" x2="506.01" y2="114.7" stroke="#333" stroke-width="0.9"/>
<line x1="510.38" y1="112.5" x2="510.38" y2="116.1" stroke="#333" stroke-width="0.9"/>
<text x="510.38" y="125.4" font-size="8.5" font-weight="normal" text-anchor="middle" fill="#111" textLength="11.23" lengthAdjust="spacingAndGlyphs" >2.0</text>
<line x1="514.75" y1="112.5" x2="514.75" y2="114.7" stroke="#333" stroke-width="0.9"/>
<line x1="519.13" y1="112.5" x2="519.13" y2="114.7" stroke="#333" stroke-width="0.9"/>
<line x1="523.5" y1="112.5" x2="523.5" y2="114.7" stroke="#333" stroke-width="0.9"/>
<line x1="527.88" y1="112.5" x2="527.88" y2="114.7" stroke="#333" stroke-width="0.9"/>
<line x1="532.25" y1="112.5" x2="532.25" y2="116.1" stroke="#333" stroke-width="0.9"/>
<text x="532.25" y="125.4" font-size="8.5" font-weight="normal" text-anchor="middle" fill="#111" textLength="11.23" lengthAdjust="spacingAndGlyphs" >2.5</text>
<line x1="536.62" y1="112.5" x2="536.62" y2="114.7" stroke="#333" stroke-width="0.9"/>
<line x1="541" y1="112.5" x2="541" y2="114.7" stroke="#333" stroke-width="0.9"/>
<text x="477.7" y="136.8" font-size="9.8" font-weight="bold" text-anchor="middle" fill="#111" textLength="101.5" lengthAdjust="spacingAndGlyphs">Potential vs. Na<tspan dy="-3.6" font-size="6.2">+</tspan><tspan dy="3.6">/Na (V)</tspan></text>
<text x="418.4" y="14" font-size="9.3" font-weight="bold" text-anchor="start" fill="#111" >(d)</text>
<line x1="30.3" y1="110.5" x2="32.5" y2="110.5" stroke="#333" stroke-width="0.9"/>
<line x1="30.3" y1="107.5" x2="32.5" y2="107.5" stroke="#333" stroke-width="0.9"/>
<line x1="28.9" y1="104.92" x2="32.5" y2="104.92" stroke="#333" stroke-width="0.9"/>
<line x1="30.3" y1="102.5" x2="32.5" y2="102.5" stroke="#333" stroke-width="0.9"/>
<line x1="30.3" y1="99.5" x2="32.5" y2="99.5" stroke="#333" stroke-width="0.9"/>
<line x1="30.3" y1="96.5" x2="32.5" y2="96.5" stroke="#333" stroke-width="0.9"/>
<line x1="30.3" y1="93.5" x2="32.5" y2="93.5" stroke="#333" stroke-width="0.9"/>
<line x1="28.9" y1="90.39" x2="32.5" y2="90.39" stroke="#333" stroke-width="0.9"/>
<line x1="30.3" y1="87.5" x2="32.5" y2="87.5" stroke="#333" stroke-width="0.9"/>
<line x1="30.3" y1="84.5" x2="32.5" y2="84.5" stroke="#333" stroke-width="0.9"/>
<line x1="30.3" y1="81.5" x2="32.5" y2="81.5" stroke="#333" stroke-width="0.9"/>
<line x1="30.3" y1="78.5" x2="32.5" y2="78.5" stroke="#333" stroke-width="0.9"/>
<line x1="28.9" y1="75.86" x2="32.5" y2="75.86" stroke="#333" stroke-width="0.9"/>
<line x1="30.3" y1="72.5" x2="32.5" y2="72.5" stroke="#333" stroke-width="0.9"/>
<line x1="30.3" y1="70.5" x2="32.5" y2="70.5" stroke="#333" stroke-width="0.9"/>
<line x1="30.3" y1="67.5" x2="32.5" y2="67.5" stroke="#333" stroke-width="0.9"/>
<line x1="30.3" y1="64.5" x2="32.5" y2="64.5" stroke="#333" stroke-width="0.9"/>
<line x1="28.9" y1="61.33" x2="32.5" y2="61.33" stroke="#333" stroke-width="0.9"/>
<line x1="30.3" y1="58.5" x2="32.5" y2="58.5" stroke="#333" stroke-width="0.9"/>
<line x1="30.3" y1="55.5" x2="32.5" y2="55.5" stroke="#333" stroke-width="0.9"/>
<line x1="30.3" y1="52.5" x2="32.5" y2="52.5" stroke="#333" stroke-width="0.9"/>
<line x1="30.3" y1="49.5" x2="32.5" y2="49.5" stroke="#333" stroke-width="0.9"/>
<line x1="28.9" y1="46.8" x2="32.5" y2="46.8" stroke="#333" stroke-width="0.9"/>
<line x1="30.3" y1="43.5" x2="32.5" y2="43.5" stroke="#333" stroke-width="0.9"/>
<line x1="30.3" y1="40.5" x2="32.5" y2="40.5" stroke="#333" stroke-width="0.9"/>
<line x1="30.3" y1="38.5" x2="32.5" y2="38.5" stroke="#333" stroke-width="0.9"/>
<line x1="30.3" y1="35.5" x2="32.5" y2="35.5" stroke="#333" stroke-width="0.9"/>
<line x1="28.9" y1="32.27" x2="32.5" y2="32.27" stroke="#333" stroke-width="0.9"/>
<line x1="30.3" y1="29.5" x2="32.5" y2="29.5" stroke="#333" stroke-width="0.9"/>
<line x1="30.3" y1="26.5" x2="32.5" y2="26.5" stroke="#333" stroke-width="0.9"/>
<line x1="30.3" y1="23.5" x2="32.5" y2="23.5" stroke="#333" stroke-width="0.9"/>
<line x1="30.3" y1="20.5" x2="32.5" y2="20.5" stroke="#333" stroke-width="0.9"/>
<line x1="28.9" y1="17.74" x2="32.5" y2="17.74" stroke="#333" stroke-width="0.9"/>
<line x1="30.3" y1="14.5" x2="32.5" y2="14.5" stroke="#333" stroke-width="0.9"/>
<line x1="30.3" y1="11.5" x2="32.5" y2="11.5" stroke="#333" stroke-width="0.9"/>
<line x1="30.3" y1="9.5" x2="32.5" y2="9.5" stroke="#333" stroke-width="0.9"/>
<line x1="30.3" y1="6.5" x2="32.5" y2="6.5" stroke="#333" stroke-width="0.9"/>
<line x1="32.5" y1="3.5" x2="32.5" y2="112.5" stroke="#333" stroke-width="1"/>
<line x1="158.2" y1="110.5" x2="161.2" y2="110.5" stroke="#333" stroke-width="0.9"/>
<line x1="158.2" y1="107.5" x2="161.2" y2="107.5" stroke="#333" stroke-width="0.9"/>
<line x1="156.1" y1="104.92" x2="163.3" y2="104.92" stroke="#333" stroke-width="0.9"/>
<line x1="158.2" y1="102.5" x2="161.2" y2="102.5" stroke="#333" stroke-width="0.9"/>
<line x1="158.2" y1="99.5" x2="161.2" y2="99.5" stroke="#333" stroke-width="0.9"/>
<line x1="158.2" y1="96.5" x2="161.2" y2="96.5" stroke="#333" stroke-width="0.9"/>
<line x1="158.2" y1="93.5" x2="161.2" y2="93.5" stroke="#333" stroke-width="0.9"/>
<line x1="156.1" y1="90.39" x2="163.3" y2="90.39" stroke="#333" stroke-width="0.9"/>
<line x1="158.2" y1="87.5" x2="161.2" y2="87.5" stroke="#333" stroke-width="0.9"/>
<line x1="158.2" y1="84.5" x2="161.2" y2="84.5" stroke="#333" stroke-width="0.9"/>
<line x1="158.2" y1="81.5" x2="161.2" y2="81.5" stroke="#333" stroke-width="0.9"/>
<line x1="158.2" y1="78.5" x2="161.2" y2="78.5" stroke="#333" stroke-width="0.9"/>
<line x1="156.1" y1="75.86" x2="163.3" y2="75.86" stroke="#333" stroke-width="0.9"/>
<line x1="158.2" y1="72.5" x2="161.2" y2="72.5" stroke="#333" stroke-width="0.9"/>
<line x1="158.2" y1="70.5" x2="161.2" y2="70.5" stroke="#333" stroke-width="0.9"/>
<line x1="158.2" y1="67.5" x2="161.2" y2="67.5" stroke="#333" stroke-width="0.9"/>
<line x1="158.2" y1="64.5" x2="161.2" y2="64.5" stroke="#333" stroke-width="0.9"/>
<line x1="156.1" y1="61.33" x2="163.3" y2="61.33" stroke="#333" stroke-width="0.9"/>
<line x1="158.2" y1="58.5" x2="161.2" y2="58.5" stroke="#333" stroke-width="0.9"/>
<line x1="158.2" y1="55.5" x2="161.2" y2="55.5" stroke="#333" stroke-width="0.9"/>
<line x1="158.2" y1="52.5" x2="161.2" y2="52.5" stroke="#333" stroke-width="0.9"/>
<line x1="158.2" y1="49.5" x2="161.2" y2="49.5" stroke="#333" stroke-width="0.9"/>
<line x1="156.1" y1="46.8" x2="163.3" y2="46.8" stroke="#333" stroke-width="0.9"/>
<line x1="158.2" y1="43.5" x2="161.2" y2="43.5" stroke="#333" stroke-width="0.9"/>
<line x1="158.2" y1="40.5" x2="161.2" y2="40.5" stroke="#333" stroke-width="0.9"/>
<line x1="158.2" y1="38.5" x2="161.2" y2="38.5" stroke="#333" stroke-width="0.9"/>
<line x1="158.2" y1="35.5" x2="161.2" y2="35.5" stroke="#333" stroke-width="0.9"/>
<line x1="156.1" y1="32.27" x2="163.3" y2="32.27" stroke="#333" stroke-width="0.9"/>
<line x1="158.2" y1="29.5" x2="161.2" y2="29.5" stroke="#333" stroke-width="0.9"/>
<line x1="158.2" y1="26.5" x2="161.2" y2="26.5" stroke="#333" stroke-width="0.9"/>
<line x1="158.2" y1="23.5" x2="161.2" y2="23.5" stroke="#333" stroke-width="0.9"/>
<line x1="158.2" y1="20.5" x2="161.2" y2="20.5" stroke="#333" stroke-width="0.9"/>
<line x1="156.1" y1="17.74" x2="163.3" y2="17.74" stroke="#333" stroke-width="0.9"/>
<line x1="158.2" y1="14.5" x2="161.2" y2="14.5" stroke="#333" stroke-width="0.9"/>
<line x1="158.2" y1="11.5" x2="161.2" y2="11.5" stroke="#333" stroke-width="0.9"/>
<line x1="158.2" y1="9.5" x2="161.2" y2="9.5" stroke="#333" stroke-width="0.9"/>
<line x1="158.2" y1="6.5" x2="161.2" y2="6.5" stroke="#333" stroke-width="0.9"/>
<line x1="159.7" y1="3.5" x2="159.7" y2="112.5" stroke="#333" stroke-width="1"/>
<line x1="285.4" y1="110.5" x2="288.4" y2="110.5" stroke="#333" stroke-width="0.9"/>
<line x1="285.4" y1="107.5" x2="288.4" y2="107.5" stroke="#333" stroke-width="0.9"/>
<line x1="283.3" y1="104.92" x2="290.5" y2="104.92" stroke="#333" stroke-width="0.9"/>
<line x1="285.4" y1="102.5" x2="288.4" y2="102.5" stroke="#333" stroke-width="0.9"/>
<line x1="285.4" y1="99.5" x2="288.4" y2="99.5" stroke="#333" stroke-width="0.9"/>
<line x1="285.4" y1="96.5" x2="288.4" y2="96.5" stroke="#333" stroke-width="0.9"/>
<line x1="285.4" y1="93.5" x2="288.4" y2="93.5" stroke="#333" stroke-width="0.9"/>
<line x1="283.3" y1="90.39" x2="290.5" y2="90.39" stroke="#333" stroke-width="0.9"/>
<line x1="285.4" y1="87.5" x2="288.4" y2="87.5" stroke="#333" stroke-width="0.9"/>
<line x1="285.4" y1="84.5" x2="288.4" y2="84.5" stroke="#333" stroke-width="0.9"/>
<line x1="285.4" y1="81.5" x2="288.4" y2="81.5" stroke="#333" stroke-width="0.9"/>
<line x1="285.4" y1="78.5" x2="288.4" y2="78.5" stroke="#333" stroke-width="0.9"/>
<line x1="283.3" y1="75.86" x2="290.5" y2="75.86" stroke="#333" stroke-width="0.9"/>
<line x1="285.4" y1="72.5" x2="288.4" y2="72.5" stroke="#333" stroke-width="0.9"/>
<line x1="285.4" y1="70.5" x2="288.4" y2="70.5" stroke="#333" stroke-width="0.9"/>
<line x1="285.4" y1="67.5" x2="288.4" y2="67.5" stroke="#333" stroke-width="0.9"/>
<line x1="285.4" y1="64.5" x2="288.4" y2="64.5" stroke="#333" stroke-width="0.9"/>
<line x1="283.3" y1="61.33" x2="290.5" y2="61.33" stroke="#333" stroke-width="0.9"/>
<line x1="285.4" y1="58.5" x2="288.4" y2="58.5" stroke="#333" stroke-width="0.9"/>
<line x1="285.4" y1="55.5" x2="288.4" y2="55.5" stroke="#333" stroke-width="0.9"/>
<line x1="285.4" y1="52.5" x2="288.4" y2="52.5" stroke="#333" stroke-width="0.9"/>
<line x1="285.4" y1="49.5" x2="288.4" y2="49.5" stroke="#333" stroke-width="0.9"/>
<line x1="283.3" y1="46.8" x2="290.5" y2="46.8" stroke="#333" stroke-width="0.9"/>
<line x1="285.4" y1="43.5" x2="288.4" y2="43.5" stroke="#333" stroke-width="0.9"/>
<line x1="285.4" y1="40.5" x2="288.4" y2="40.5" stroke="#333" stroke-width="0.9"/>
<line x1="285.4" y1="38.5" x2="288.4" y2="38.5" stroke="#333" stroke-width="0.9"/>
<line x1="285.4" y1="35.5" x2="288.4" y2="35.5" stroke="#333" stroke-width="0.9"/>
<line x1="283.3" y1="32.27" x2="290.5" y2="32.27" stroke="#333" stroke-width="0.9"/>
<line x1="285.4" y1="29.5" x2="288.4" y2="29.5" stroke="#333" stroke-width="0.9"/>
<line x1="285.4" y1="26.5" x2="288.4" y2="26.5" stroke="#333" stroke-width="0.9"/>
<line x1="285.4" y1="23.5" x2="288.4" y2="23.5" stroke="#333" stroke-width="0.9"/>
<line x1="285.4" y1="20.5" x2="288.4" y2="20.5" stroke="#333" stroke-width="0.9"/>
<line x1="283.3" y1="17.74" x2="290.5" y2="17.74" stroke="#333" stroke-width="0.9"/>
<line x1="285.4" y1="14.5" x2="288.4" y2="14.5" stroke="#333" stroke-width="0.9"/>
<line x1="285.4" y1="11.5" x2="288.4" y2="11.5" stroke="#333" stroke-width="0.9"/>
<line x1="285.4" y1="9.5" x2="288.4" y2="9.5" stroke="#333" stroke-width="0.9"/>
<line x1="285.4" y1="6.5" x2="288.4" y2="6.5" stroke="#333" stroke-width="0.9"/>
<line x1="286.9" y1="3.5" x2="286.9" y2="112.5" stroke="#333" stroke-width="1"/>
<line x1="412.6" y1="110.5" x2="415.6" y2="110.5" stroke="#333" stroke-width="0.9"/>
<line x1="412.6" y1="107.5" x2="415.6" y2="107.5" stroke="#333" stroke-width="0.9"/>
<line x1="410.5" y1="104.92" x2="417.7" y2="104.92" stroke="#333" stroke-width="0.9"/>
<line x1="412.6" y1="102.5" x2="415.6" y2="102.5" stroke="#333" stroke-width="0.9"/>
<line x1="412.6" y1="99.5" x2="415.6" y2="99.5" stroke="#333" stroke-width="0.9"/>
<line x1="412.6" y1="96.5" x2="415.6" y2="96.5" stroke="#333" stroke-width="0.9"/>
<line x1="412.6" y1="93.5" x2="415.6" y2="93.5" stroke="#333" stroke-width="0.9"/>
<line x1="410.5" y1="90.39" x2="417.7" y2="90.39" stroke="#333" stroke-width="0.9"/>
<line x1="412.6" y1="87.5" x2="415.6" y2="87.5" stroke="#333" stroke-width="0.9"/>
<line x1="412.6" y1="84.5" x2="415.6" y2="84.5" stroke="#333" stroke-width="0.9"/>
<line x1="412.6" y1="81.5" x2="415.6" y2="81.5" stroke="#333" stroke-width="0.9"/>
<line x1="412.6" y1="78.5" x2="415.6" y2="78.5" stroke="#333" stroke-width="0.9"/>
<line x1="410.5" y1="75.86" x2="417.7" y2="75.86" stroke="#333" stroke-width="0.9"/>
<line x1="412.6" y1="72.5" x2="415.6" y2="72.5" stroke="#333" stroke-width="0.9"/>
<line x1="412.6" y1="70.5" x2="415.6" y2="70.5" stroke="#333" stroke-width="0.9"/>
<line x1="412.6" y1="67.5" x2="415.6" y2="67.5" stroke="#333" stroke-width="0.9"/>
<line x1="412.6" y1="64.5" x2="415.6" y2="64.5" stroke="#333" stroke-width="0.9"/>
<line x1="410.5" y1="61.33" x2="417.7" y2="61.33" stroke="#333" stroke-width="0.9"/>
<line x1="412.6" y1="58.5" x2="415.6" y2="58.5" stroke="#333" stroke-width="0.9"/>
<line x1="412.6" y1="55.5" x2="415.6" y2="55.5" stroke="#333" stroke-width="0.9"/>
<line x1="412.6" y1="52.5" x2="415.6" y2="52.5" stroke="#333" stroke-width="0.9"/>
<line x1="412.6" y1="49.5" x2="415.6" y2="49.5" stroke="#333" stroke-width="0.9"/>
<line x1="410.5" y1="46.8" x2="417.7" y2="46.8" stroke="#333" stroke-width="0.9"/>
<line x1="412.6" y1="43.5" x2="415.6" y2="43.5" stroke="#333" stroke-width="0.9"/>
<line x1="412.6" y1="40.5" x2="415.6" y2="40.5" stroke="#333" stroke-width="0.9"/>
<line x1="412.6" y1="38.5" x2="415.6" y2="38.5" stroke="#333" stroke-width="0.9"/>
<line x1="412.6" y1="35.5" x2="415.6" y2="35.5" stroke="#333" stroke-width="0.9"/>
<line x1="410.5" y1="32.27" x2="417.7" y2="32.27" stroke="#333" stroke-width="0.9"/>
<line x1="412.6" y1="29.5" x2="415.6" y2="29.5" stroke="#333" stroke-width="0.9"/>
<line x1="412.6" y1="26.5" x2="415.6" y2="26.5" stroke="#333" stroke-width="0.9"/>
<line x1="412.6" y1="23.5" x2="415.6" y2="23.5" stroke="#333" stroke-width="0.9"/>
<line x1="412.6" y1="20.5" x2="415.6" y2="20.5" stroke="#333" stroke-width="0.9"/>
<line x1="410.5" y1="17.74" x2="417.7" y2="17.74" stroke="#333" stroke-width="0.9"/>
<line x1="412.6" y1="14.5" x2="415.6" y2="14.5" stroke="#333" stroke-width="0.9"/>
<line x1="412.6" y1="11.5" x2="415.6" y2="11.5" stroke="#333" stroke-width="0.9"/>
<line x1="412.6" y1="9.5" x2="415.6" y2="9.5" stroke="#333" stroke-width="0.9"/>
<line x1="412.6" y1="6.5" x2="415.6" y2="6.5" stroke="#333" stroke-width="0.9"/>
<line x1="414.1" y1="3.5" x2="414.1" y2="112.5" stroke="#333" stroke-width="1"/>
<line x1="539.1" y1="110.5" x2="543.5" y2="110.5" stroke="#333" stroke-width="0.9"/>
<line x1="539.1" y1="107.5" x2="543.5" y2="107.5" stroke="#333" stroke-width="0.9"/>
<line x1="537.7" y1="104.92" x2="544.9" y2="104.92" stroke="#333" stroke-width="0.9"/>
<line x1="539.1" y1="102.5" x2="543.5" y2="102.5" stroke="#333" stroke-width="0.9"/>
<line x1="539.1" y1="99.5" x2="543.5" y2="99.5" stroke="#333" stroke-width="0.9"/>
<line x1="539.1" y1="96.5" x2="543.5" y2="96.5" stroke="#333" stroke-width="0.9"/>
<line x1="539.1" y1="93.5" x2="543.5" y2="93.5" stroke="#333" stroke-width="0.9"/>
<line x1="537.7" y1="90.39" x2="544.9" y2="90.39" stroke="#333" stroke-width="0.9"/>
<line x1="539.1" y1="87.5" x2="543.5" y2="87.5" stroke="#333" stroke-width="0.9"/>
<line x1="539.1" y1="84.5" x2="543.5" y2="84.5" stroke="#333" stroke-width="0.9"/>
<line x1="539.1" y1="81.5" x2="543.5" y2="81.5" stroke="#333" stroke-width="0.9"/>
<line x1="539.1" y1="78.5" x2="543.5" y2="78.5" stroke="#333" stroke-width="0.9"/>
<line x1="537.7" y1="75.86" x2="544.9" y2="75.86" stroke="#333" stroke-width="0.9"/>
<line x1="539.1" y1="72.5" x2="543.5" y2="72.5" stroke="#333" stroke-width="0.9"/>
<line x1="539.1" y1="70.5" x2="543.5" y2="70.5" stroke="#333" stroke-width="0.9"/>
<line x1="539.1" y1="67.5" x2="543.5" y2="67.5" stroke="#333" stroke-width="0.9"/>
<line x1="539.1" y1="64.5" x2="543.5" y2="64.5" stroke="#333" stroke-width="0.9"/>
<line x1="537.7" y1="61.33" x2="544.9" y2="61.33" stroke="#333" stroke-width="0.9"/>
<line x1="539.1" y1="58.5" x2="543.5" y2="58.5" stroke="#333" stroke-width="0.9"/>
<line x1="539.1" y1="55.5" x2="543.5" y2="55.5" stroke="#333" stroke-width="0.9"/>
<line x1="539.1" y1="52.5" x2="543.5" y2="52.5" stroke="#333" stroke-width="0.9"/>
<line x1="539.1" y1="49.5" x2="543.5" y2="49.5" stroke="#333" stroke-width="0.9"/>
<line x1="537.7" y1="46.8" x2="544.9" y2="46.8" stroke="#333" stroke-width="0.9"/>
<line x1="539.1" y1="43.5" x2="543.5" y2="43.5" stroke="#333" stroke-width="0.9"/>
<line x1="539.1" y1="40.5" x2="543.5" y2="40.5" stroke="#333" stroke-width="0.9"/>
<line x1="539.1" y1="38.5" x2="543.5" y2="38.5" stroke="#333" stroke-width="0.9"/>
<line x1="539.1" y1="35.5" x2="543.5" y2="35.5" stroke="#333" stroke-width="0.9"/>
<line x1="537.7" y1="32.27" x2="544.9" y2="32.27" stroke="#333" stroke-width="0.9"/>
<line x1="539.1" y1="29.5" x2="543.5" y2="29.5" stroke="#333" stroke-width="0.9"/>
<line x1="539.1" y1="26.5" x2="543.5" y2="26.5" stroke="#333" stroke-width="0.9"/>
<line x1="539.1" y1="23.5" x2="543.5" y2="23.5" stroke="#333" stroke-width="0.9"/>
<line x1="539.1" y1="20.5" x2="543.5" y2="20.5" stroke="#333" stroke-width="0.9"/>
<line x1="537.7" y1="17.74" x2="544.9" y2="17.74" stroke="#333" stroke-width="0.9"/>
<line x1="539.1" y1="14.5" x2="543.5" y2="14.5" stroke="#333" stroke-width="0.9"/>
<line x1="539.1" y1="11.5" x2="543.5" y2="11.5" stroke="#333" stroke-width="0.9"/>
<line x1="539.1" y1="9.5" x2="543.5" y2="9.5" stroke="#333" stroke-width="0.9"/>
<line x1="539.1" y1="6.5" x2="543.5" y2="6.5" stroke="#333" stroke-width="0.9"/>
<line x1="541.3" y1="3.5" x2="541.3" y2="112.5" stroke="#333" stroke-width="1"/>
<line x1="28.9" y1="3.5" x2="541.3" y2="3.5" stroke="#333" stroke-width="1"/>
<line x1="32.5" y1="112.5" x2="541.3" y2="112.5" stroke="#333" stroke-width="1"/>
<text x="26" y="107.52" font-size="8.5" font-weight="normal" text-anchor="end" fill="#111" textLength="13.91" lengthAdjust="spacingAndGlyphs" >-0.4</text>
<text x="546" y="107.52" font-size="8.5" font-weight="normal" text-anchor="start" fill="#111" textLength="13.91" lengthAdjust="spacingAndGlyphs" >-0.4</text>
<text x="26" y="92.99" font-size="8.5" font-weight="normal" text-anchor="end" fill="#111" textLength="13.91" lengthAdjust="spacingAndGlyphs" >-0.3</text>
<text x="546" y="92.99" font-size="8.5" font-weight="normal" text-anchor="start" fill="#111" textLength="13.91" lengthAdjust="spacingAndGlyphs" >-0.3</text>
<text x="26" y="78.46" font-size="8.5" font-weight="normal" text-anchor="end" fill="#111" textLength="13.91" lengthAdjust="spacingAndGlyphs" >-0.2</text>
<text x="546" y="78.46" font-size="8.5" font-weight="normal" text-anchor="start" fill="#111" textLength="13.91" lengthAdjust="spacingAndGlyphs" >-0.2</text>
<text x="26" y="63.93" font-size="8.5" font-weight="normal" text-anchor="end" fill="#111" textLength="13.91" lengthAdjust="spacingAndGlyphs" >-0.1</text>
<text x="546" y="63.93" font-size="8.5" font-weight="normal" text-anchor="start" fill="#111" textLength="13.91" lengthAdjust="spacingAndGlyphs" >-0.1</text>
<text x="26" y="49.4" font-size="8.5" font-weight="normal" text-anchor="end" fill="#111" textLength="11.23" lengthAdjust="spacingAndGlyphs" >0.0</text>
<text x="546" y="49.4" font-size="8.5" font-weight="normal" text-anchor="start" fill="#111" textLength="11.23" lengthAdjust="spacingAndGlyphs" >0.0</text>
<text x="26" y="34.87" font-size="8.5" font-weight="normal" text-anchor="end" fill="#111" textLength="11.23" lengthAdjust="spacingAndGlyphs" >0.1</text>
<text x="546" y="34.87" font-size="8.5" font-weight="normal" text-anchor="start" fill="#111" textLength="11.23" lengthAdjust="spacingAndGlyphs" >0.1</text>
<text x="26" y="20.34" font-size="8.5" font-weight="normal" text-anchor="end" fill="#111" textLength="11.23" lengthAdjust="spacingAndGlyphs" >0.2</text>
<text x="546" y="20.34" font-size="8.5" font-weight="normal" text-anchor="start" fill="#111" textLength="11.23" lengthAdjust="spacingAndGlyphs" >0.2</text>
<text x="26" y="5.81" font-size="8.5" font-weight="normal" text-anchor="end" fill="#111" textLength="11.23" lengthAdjust="spacingAndGlyphs" >0.3</text>
<text x="546" y="5.81" font-size="8.5" font-weight="normal" text-anchor="start" fill="#111" textLength="11.23" lengthAdjust="spacingAndGlyphs" >0.3</text>
<text transform="translate(7.8,55.9) rotate(-90)" font-size="9.2" font-weight="bold" text-anchor="middle" fill="#111" textLength="57" lengthAdjust="spacingAndGlyphs">Current (mA)</text>
<text transform="translate(572.3,54.1) rotate(-90)" font-size="9.2" font-weight="bold" text-anchor="middle" fill="#111" textLength="58.8" lengthAdjust="spacingAndGlyphs">Current (mA)</text>
<text x="88.6" y="29.8" font-size="6.9" font-weight="bold" text-anchor="start" fill="#111" textLength="26.5" lengthAdjust="spacingAndGlyphs" >oxidation</text>
<line x1="93" y1="34.4" x2="124" y2="34.4" stroke="#111" stroke-width="1.25"/>
<path d="M123.2,30.9 L129.8,34.4 L123.2,37.9 Z" fill="#111"/>
<line x1="117" y1="56.3" x2="146" y2="56.3" stroke="#111" stroke-width="1.2"/>
<path d="M118.3,52.9 L111,56.3 L118.3,59.7 Z" fill="#111"/>
<text x="120.9" y="62.7" font-size="6.9" font-weight="bold" text-anchor="start" fill="#111" textLength="26.3" lengthAdjust="spacingAndGlyphs" >reduction</text>
<line x1="482.5" y1="63.3" x2="502.2" y2="63.3" stroke="#6f6f6f" stroke-width="1.5"/>
<text x="504" y="65.9" font-size="6.7" font-weight="bold" fill="#111" textLength="33.2" lengthAdjust="spacingAndGlyphs">0.2 mV s<tspan dy="-2.6" font-size="4.6">−1</tspan></text>
<line x1="482.5" y1="74.05" x2="502.2" y2="74.05" stroke="#ec3540" stroke-width="1.5"/>
<text x="504" y="76.65" font-size="6.7" font-weight="bold" fill="#111" textLength="33.2" lengthAdjust="spacingAndGlyphs">0.4 mV s<tspan dy="-2.6" font-size="4.6">−1</tspan></text>
<line x1="482.5" y1="84.8" x2="502.2" y2="84.8" stroke="#3f6fc3" stroke-width="1.5"/>
<text x="504" y="87.4" font-size="6.7" font-weight="bold" fill="#111" textLength="33.2" lengthAdjust="spacingAndGlyphs">0.6 mV s<tspan dy="-2.6" font-size="4.6">−1</tspan></text>
<line x1="482.5" y1="95.55" x2="502.2" y2="95.55" stroke="#2ea25a" stroke-width="1.5"/>
<text x="504" y="98.15" font-size="6.7" font-weight="bold" fill="#111" textLength="33.2" lengthAdjust="spacingAndGlyphs">0.8 mV s<tspan dy="-2.6" font-size="4.6">−1</tspan></text>
<line x1="482.5" y1="106.3" x2="502.2" y2="106.3" stroke="#9b6dce" stroke-width="1.5"/>
<text x="504" y="108.9" font-size="6.7" font-weight="bold" fill="#111" textLength="28.5" lengthAdjust="spacingAndGlyphs">1 mV s<tspan dy="-2.6" font-size="4.6">−1</tspan></text>
<rect x="39.2" y="164.5" width="19.6" height="9.92" fill="#ee3a44" stroke="#7a3a3a" stroke-width="0.5"/>
<rect x="39.2" y="174.42" width="19.6" height="99.08" fill="#6e6f70" stroke="#505050" stroke-width="0.7"/>
<line x1="39.2" y1="174.42" x2="58.8" y2="174.42" stroke="#4a3a3a" stroke-width="0.9"/>
<text class="w" x="49.1" y="183.02" font-size="8.6" font-weight="bold" text-anchor="middle" fill="#fff" textLength="14.1" lengthAdjust="spacingAndGlyphs" >90.9</text>
<line x1="49" y1="273.5" x2="49" y2="276.7" stroke="#333" stroke-width="0.9"/>
<line x1="37.25" y1="273.5" x2="37.25" y2="275.3" stroke="#333" stroke-width="0.9"/>
<text x="49" y="286.2" font-size="8.5" font-weight="normal" text-anchor="middle" fill="#111" textLength="11.23" lengthAdjust="spacingAndGlyphs" >0.2</text>
<rect x="62.75" y="164.5" width="19.6" height="7.19" fill="#ee3a44" stroke="#7a3a3a" stroke-width="0.5"/>
<rect x="62.75" y="171.69" width="19.6" height="101.81" fill="#6e6f70" stroke="#505050" stroke-width="0.7"/>
<line x1="62.75" y1="171.69" x2="82.35" y2="171.69" stroke="#4a3a3a" stroke-width="0.9"/>
<text class="w" x="72.65" y="180.29" font-size="8.6" font-weight="bold" text-anchor="middle" fill="#fff" textLength="14.1" lengthAdjust="spacingAndGlyphs" >93.4</text>
<line x1="72.55" y1="273.5" x2="72.55" y2="276.7" stroke="#333" stroke-width="0.9"/>
<line x1="60.8" y1="273.5" x2="60.8" y2="275.3" stroke="#333" stroke-width="0.9"/>
<text x="72.55" y="286.2" font-size="8.5" font-weight="normal" text-anchor="middle" fill="#111" textLength="11.23" lengthAdjust="spacingAndGlyphs" >0.4</text>
<rect x="86.3" y="164.5" width="19.6" height="6" fill="#ee3a44" stroke="#7a3a3a" stroke-width="0.5"/>
<rect x="86.3" y="170.5" width="19.6" height="103" fill="#6e6f70" stroke="#505050" stroke-width="0.7"/>
<line x1="86.3" y1="170.5" x2="105.9" y2="170.5" stroke="#4a3a3a" stroke-width="0.9"/>
<text class="w" x="96.2" y="179.09" font-size="8.6" font-weight="bold" text-anchor="middle" fill="#fff" textLength="14.1" lengthAdjust="spacingAndGlyphs" >94.5</text>
<line x1="96.1" y1="273.5" x2="96.1" y2="276.7" stroke="#333" stroke-width="0.9"/>
<line x1="84.35" y1="273.5" x2="84.35" y2="275.3" stroke="#333" stroke-width="0.9"/>
<text x="96.1" y="286.2" font-size="8.5" font-weight="normal" text-anchor="middle" fill="#111" textLength="11.23" lengthAdjust="spacingAndGlyphs" >0.6</text>
<rect x="109.85" y="164.5" width="19.6" height="5.23" fill="#ee3a44" stroke="#7a3a3a" stroke-width="0.5"/>
<rect x="109.85" y="169.73" width="19.6" height="103.77" fill="#6e6f70" stroke="#505050" stroke-width="0.7"/>
<line x1="109.85" y1="169.73" x2="129.45" y2="169.73" stroke="#4a3a3a" stroke-width="0.9"/>
<text class="w" x="119.75" y="178.33" font-size="8.6" font-weight="bold" text-anchor="middle" fill="#fff" textLength="14.1" lengthAdjust="spacingAndGlyphs" >95.2</text>
<line x1="119.65" y1="273.5" x2="119.65" y2="276.7" stroke="#333" stroke-width="0.9"/>
<line x1="107.9" y1="273.5" x2="107.9" y2="275.3" stroke="#333" stroke-width="0.9"/>
<text x="119.65" y="286.2" font-size="8.5" font-weight="normal" text-anchor="middle" fill="#111" textLength="11.23" lengthAdjust="spacingAndGlyphs" >0.8</text>
<rect x="133.4" y="164.5" width="19.6" height="4.69" fill="#ee3a44" stroke="#7a3a3a" stroke-width="0.5"/>
<rect x="133.4" y="169.19" width="19.6" height="104.31" fill="#6e6f70" stroke="#505050" stroke-width="0.7"/>
<line x1="133.4" y1="169.19" x2="153" y2="169.19" stroke="#4a3a3a" stroke-width="0.9"/>
<text class="w" x="143.3" y="177.79" font-size="8.6" font-weight="bold" text-anchor="middle" fill="#fff" textLength="14.1" lengthAdjust="spacingAndGlyphs" >95.7</text>
<line x1="143.2" y1="273.5" x2="143.2" y2="276.7" stroke="#333" stroke-width="0.9"/>
<line x1="131.45" y1="273.5" x2="131.45" y2="275.3" stroke="#333" stroke-width="0.9"/>
<text x="143.2" y="286.2" font-size="8.5" font-weight="normal" text-anchor="middle" fill="#111" textLength="4.49" lengthAdjust="spacingAndGlyphs" >1</text>
<line x1="154.95" y1="273.5" x2="154.95" y2="275.3" stroke="#333" stroke-width="0.9"/>
<text x="96.1" y="300.3" font-size="9.6" font-weight="bold" text-anchor="middle" fill="#111" textLength="77" lengthAdjust="spacingAndGlyphs">Scan Rate (mV s<tspan dy="-3.6" font-size="6">−1</tspan><tspan dy="3.6">)</tspan></text>
<text x="34.9" y="160.1" font-size="9.3" font-weight="bold" text-anchor="start" fill="#111" >(e)</text>
<rect x="166.4" y="164.5" width="19.6" height="14.71" fill="#ee3a44" stroke="#7a3a3a" stroke-width="0.5"/>
<rect x="166.4" y="179.21" width="19.6" height="94.29" fill="#6e6f70" stroke="#505050" stroke-width="0.7"/>
<line x1="166.4" y1="179.21" x2="186" y2="179.21" stroke="#4a3a3a" stroke-width="0.9"/>
<text class="w" x="176.3" y="187.81" font-size="8.6" font-weight="bold" text-anchor="middle" fill="#fff" textLength="14.1" lengthAdjust="spacingAndGlyphs" >86.5</text>
<line x1="176.2" y1="273.5" x2="176.2" y2="276.7" stroke="#333" stroke-width="0.9"/>
<line x1="164.45" y1="273.5" x2="164.45" y2="275.3" stroke="#333" stroke-width="0.9"/>
<text x="176.2" y="286.2" font-size="8.5" font-weight="normal" text-anchor="middle" fill="#111" textLength="11.23" lengthAdjust="spacingAndGlyphs" >0.2</text>
<rect x="189.95" y="164.5" width="19.6" height="10.9" fill="#ee3a44" stroke="#7a3a3a" stroke-width="0.5"/>
<rect x="189.95" y="175.4" width="19.6" height="98.1" fill="#6e6f70" stroke="#505050" stroke-width="0.7"/>
<line x1="189.95" y1="175.4" x2="209.55" y2="175.4" stroke="#4a3a3a" stroke-width="0.9"/>
<text class="w" x="199.85" y="184" font-size="8.6" font-weight="bold" text-anchor="middle" fill="#fff" textLength="14.1" lengthAdjust="spacingAndGlyphs" >90.0</text>
<line x1="199.75" y1="273.5" x2="199.75" y2="276.7" stroke="#333" stroke-width="0.9"/>
<line x1="188" y1="273.5" x2="188" y2="275.3" stroke="#333" stroke-width="0.9"/>
<text x="199.75" y="286.2" font-size="8.5" font-weight="normal" text-anchor="middle" fill="#111" textLength="11.23" lengthAdjust="spacingAndGlyphs" >0.4</text>
<rect x="213.5" y="164.5" width="19.6" height="9.05" fill="#ee3a44" stroke="#7a3a3a" stroke-width="0.5"/>
<rect x="213.5" y="173.55" width="19.6" height="99.95" fill="#6e6f70" stroke="#505050" stroke-width="0.7"/>
<line x1="213.5" y1="173.55" x2="233.1" y2="173.55" stroke="#4a3a3a" stroke-width="0.9"/>
<text class="w" x="223.4" y="182.15" font-size="8.6" font-weight="bold" text-anchor="middle" fill="#fff" textLength="14.1" lengthAdjust="spacingAndGlyphs" >91.7</text>
<line x1="223.3" y1="273.5" x2="223.3" y2="276.7" stroke="#333" stroke-width="0.9"/>
<line x1="211.55" y1="273.5" x2="211.55" y2="275.3" stroke="#333" stroke-width="0.9"/>
<text x="223.3" y="286.2" font-size="8.5" font-weight="normal" text-anchor="middle" fill="#111" textLength="11.23" lengthAdjust="spacingAndGlyphs" >0.6</text>
<rect x="237.05" y="164.5" width="19.6" height="7.96" fill="#ee3a44" stroke="#7a3a3a" stroke-width="0.5"/>
<rect x="237.05" y="172.46" width="19.6" height="101.04" fill="#6e6f70" stroke="#505050" stroke-width="0.7"/>
<line x1="237.05" y1="172.46" x2="256.65" y2="172.46" stroke="#4a3a3a" stroke-width="0.9"/>
<text class="w" x="246.95" y="181.06" font-size="8.6" font-weight="bold" text-anchor="middle" fill="#fff" textLength="14.1" lengthAdjust="spacingAndGlyphs" >92.7</text>
<line x1="246.85" y1="273.5" x2="246.85" y2="276.7" stroke="#333" stroke-width="0.9"/>
<line x1="235.1" y1="273.5" x2="235.1" y2="275.3" stroke="#333" stroke-width="0.9"/>
<text x="246.85" y="286.2" font-size="8.5" font-weight="normal" text-anchor="middle" fill="#111" textLength="11.23" lengthAdjust="spacingAndGlyphs" >0.8</text>
<rect x="260.6" y="164.5" width="19.6" height="7.08" fill="#ee3a44" stroke="#7a3a3a" stroke-width="0.5"/>
<rect x="260.6" y="171.58" width="19.6" height="101.92" fill="#6e6f70" stroke="#505050" stroke-width="0.7"/>
<line x1="260.6" y1="171.58" x2="280.2" y2="171.58" stroke="#4a3a3a" stroke-width="0.9"/>
<text class="w" x="270.5" y="180.18" font-size="8.6" font-weight="bold" text-anchor="middle" fill="#fff" textLength="14.1" lengthAdjust="spacingAndGlyphs" >93.5</text>
<line x1="270.4" y1="273.5" x2="270.4" y2="276.7" stroke="#333" stroke-width="0.9"/>
<line x1="258.65" y1="273.5" x2="258.65" y2="275.3" stroke="#333" stroke-width="0.9"/>
<text x="270.4" y="286.2" font-size="8.5" font-weight="normal" text-anchor="middle" fill="#111" textLength="4.49" lengthAdjust="spacingAndGlyphs" >1</text>
<line x1="282.15" y1="273.5" x2="282.15" y2="275.3" stroke="#333" stroke-width="0.9"/>
<text x="223.3" y="300.3" font-size="9.6" font-weight="bold" text-anchor="middle" fill="#111" textLength="77" lengthAdjust="spacingAndGlyphs">Scan Rate (mV s<tspan dy="-3.6" font-size="6">−1</tspan><tspan dy="3.6">)</tspan></text>
<text x="164" y="160.1" font-size="9.3" font-weight="bold" text-anchor="start" fill="#111" >(f)</text>
<rect x="293.6" y="164.5" width="19.6" height="33.9" fill="#ee3a44" stroke="#7a3a3a" stroke-width="0.5"/>
<rect x="293.6" y="198.4" width="19.6" height="75.1" fill="#6e6f70" stroke="#505050" stroke-width="0.7"/>
<line x1="293.6" y1="198.4" x2="313.2" y2="198.4" stroke="#4a3a3a" stroke-width="0.9"/>
<text class="w" x="303.5" y="207" font-size="8.6" font-weight="bold" text-anchor="middle" fill="#fff" textLength="14.1" lengthAdjust="spacingAndGlyphs" >68.9</text>
<line x1="303.4" y1="273.5" x2="303.4" y2="276.7" stroke="#333" stroke-width="0.9"/>
<line x1="291.65" y1="273.5" x2="291.65" y2="275.3" stroke="#333" stroke-width="0.9"/>
<text x="303.4" y="286.2" font-size="8.5" font-weight="normal" text-anchor="middle" fill="#111" textLength="11.23" lengthAdjust="spacingAndGlyphs" >0.2</text>
<rect x="317.15" y="164.5" width="19.6" height="26.38" fill="#ee3a44" stroke="#7a3a3a" stroke-width="0.5"/>
<rect x="317.15" y="190.88" width="19.6" height="82.62" fill="#6e6f70" stroke="#505050" stroke-width="0.7"/>
<line x1="317.15" y1="190.88" x2="336.75" y2="190.88" stroke="#4a3a3a" stroke-width="0.9"/>
<text class="w" x="327.05" y="199.48" font-size="8.6" font-weight="bold" text-anchor="middle" fill="#fff" textLength="14.1" lengthAdjust="spacingAndGlyphs" >75.8</text>
<line x1="326.95" y1="273.5" x2="326.95" y2="276.7" stroke="#333" stroke-width="0.9"/>
<line x1="315.2" y1="273.5" x2="315.2" y2="275.3" stroke="#333" stroke-width="0.9"/>
<text x="326.95" y="286.2" font-size="8.5" font-weight="normal" text-anchor="middle" fill="#111" textLength="11.23" lengthAdjust="spacingAndGlyphs" >0.4</text>
<rect x="340.7" y="164.5" width="19.6" height="22.56" fill="#ee3a44" stroke="#7a3a3a" stroke-width="0.5"/>
<rect x="340.7" y="187.06" width="19.6" height="86.44" fill="#6e6f70" stroke="#505050" stroke-width="0.7"/>
<line x1="340.7" y1="187.06" x2="360.3" y2="187.06" stroke="#4a3a3a" stroke-width="0.9"/>
<text class="w" x="350.6" y="195.66" font-size="8.6" font-weight="bold" text-anchor="middle" fill="#fff" textLength="14.1" lengthAdjust="spacingAndGlyphs" >79.3</text>
<line x1="350.5" y1="273.5" x2="350.5" y2="276.7" stroke="#333" stroke-width="0.9"/>
<line x1="338.75" y1="273.5" x2="338.75" y2="275.3" stroke="#333" stroke-width="0.9"/>
<text x="350.5" y="286.2" font-size="8.5" font-weight="normal" text-anchor="middle" fill="#111" textLength="11.23" lengthAdjust="spacingAndGlyphs" >0.6</text>
<rect x="364.25" y="164.5" width="19.6" height="20.06" fill="#ee3a44" stroke="#7a3a3a" stroke-width="0.5"/>
<rect x="364.25" y="184.56" width="19.6" height="88.94" fill="#6e6f70" stroke="#505050" stroke-width="0.7"/>
<line x1="364.25" y1="184.56" x2="383.85" y2="184.56" stroke="#4a3a3a" stroke-width="0.9"/>
<text class="w" x="374.15" y="193.16" font-size="8.6" font-weight="bold" text-anchor="middle" fill="#fff" textLength="14.1" lengthAdjust="spacingAndGlyphs" >81.6</text>
<line x1="374.05" y1="273.5" x2="374.05" y2="276.7" stroke="#333" stroke-width="0.9"/>
<line x1="362.3" y1="273.5" x2="362.3" y2="275.3" stroke="#333" stroke-width="0.9"/>
<text x="374.05" y="286.2" font-size="8.5" font-weight="normal" text-anchor="middle" fill="#111" textLength="11.23" lengthAdjust="spacingAndGlyphs" >0.8</text>
<rect x="387.8" y="164.5" width="19.6" height="18.31" fill="#ee3a44" stroke="#7a3a3a" stroke-width="0.5"/>
<rect x="387.8" y="182.81" width="19.6" height="90.69" fill="#6e6f70" stroke="#505050" stroke-width="0.7"/>
<line x1="387.8" y1="182.81" x2="407.4" y2="182.81" stroke="#4a3a3a" stroke-width="0.9"/>
<text class="w" x="397.7" y="191.41" font-size="8.6" font-weight="bold" text-anchor="middle" fill="#fff" textLength="14.1" lengthAdjust="spacingAndGlyphs" >83.2</text>
<line x1="397.6" y1="273.5" x2="397.6" y2="276.7" stroke="#333" stroke-width="0.9"/>
<line x1="385.85" y1="273.5" x2="385.85" y2="275.3" stroke="#333" stroke-width="0.9"/>
<text x="397.6" y="286.2" font-size="8.5" font-weight="normal" text-anchor="middle" fill="#111" textLength="4.49" lengthAdjust="spacingAndGlyphs" >1</text>
<line x1="409.35" y1="273.5" x2="409.35" y2="275.3" stroke="#333" stroke-width="0.9"/>
<text x="350.5" y="300.3" font-size="9.6" font-weight="bold" text-anchor="middle" fill="#111" textLength="77" lengthAdjust="spacingAndGlyphs">Scan Rate (mV s<tspan dy="-3.6" font-size="6">−1</tspan><tspan dy="3.6">)</tspan></text>
<text x="291.2" y="160.1" font-size="9.3" font-weight="bold" text-anchor="start" fill="#111" >(g)</text>
<rect x="420.8" y="164.5" width="19.6" height="35.97" fill="#ee3a44" stroke="#7a3a3a" stroke-width="0.5"/>
<rect x="420.8" y="200.47" width="19.6" height="73.03" fill="#6e6f70" stroke="#505050" stroke-width="0.7"/>
<line x1="420.8" y1="200.47" x2="440.4" y2="200.47" stroke="#4a3a3a" stroke-width="0.9"/>
<text class="w" x="430.7" y="209.07" font-size="8.6" font-weight="bold" text-anchor="middle" fill="#fff" textLength="14.1" lengthAdjust="spacingAndGlyphs" >67.0</text>
<line x1="430.6" y1="273.5" x2="430.6" y2="276.7" stroke="#333" stroke-width="0.9"/>
<line x1="418.85" y1="273.5" x2="418.85" y2="275.3" stroke="#333" stroke-width="0.9"/>
<text x="430.6" y="286.2" font-size="8.5" font-weight="normal" text-anchor="middle" fill="#111" textLength="11.23" lengthAdjust="spacingAndGlyphs" >0.2</text>
<rect x="444.35" y="164.5" width="19.6" height="28.23" fill="#ee3a44" stroke="#7a3a3a" stroke-width="0.5"/>
<rect x="444.35" y="192.73" width="19.6" height="80.77" fill="#6e6f70" stroke="#505050" stroke-width="0.7"/>
<line x1="444.35" y1="192.73" x2="463.95" y2="192.73" stroke="#4a3a3a" stroke-width="0.9"/>
<text class="w" x="454.25" y="201.33" font-size="8.6" font-weight="bold" text-anchor="middle" fill="#fff" textLength="14.1" lengthAdjust="spacingAndGlyphs" >74.1</text>
<line x1="454.15" y1="273.5" x2="454.15" y2="276.7" stroke="#333" stroke-width="0.9"/>
<line x1="442.4" y1="273.5" x2="442.4" y2="275.3" stroke="#333" stroke-width="0.9"/>
<text x="454.15" y="286.2" font-size="8.5" font-weight="normal" text-anchor="middle" fill="#111" textLength="11.23" lengthAdjust="spacingAndGlyphs" >0.4</text>
<rect x="467.9" y="164.5" width="19.6" height="24.2" fill="#ee3a44" stroke="#7a3a3a" stroke-width="0.5"/>
<rect x="467.9" y="188.7" width="19.6" height="84.8" fill="#6e6f70" stroke="#505050" stroke-width="0.7"/>
<line x1="467.9" y1="188.7" x2="487.5" y2="188.7" stroke="#4a3a3a" stroke-width="0.9"/>
<text class="w" x="477.8" y="197.3" font-size="8.6" font-weight="bold" text-anchor="middle" fill="#fff" textLength="14.1" lengthAdjust="spacingAndGlyphs" >77.8</text>
<line x1="477.7" y1="273.5" x2="477.7" y2="276.7" stroke="#333" stroke-width="0.9"/>
<line x1="465.95" y1="273.5" x2="465.95" y2="275.3" stroke="#333" stroke-width="0.9"/>
<text x="477.7" y="286.2" font-size="8.5" font-weight="normal" text-anchor="middle" fill="#111" textLength="11.23" lengthAdjust="spacingAndGlyphs" >0.6</text>
<rect x="491.45" y="164.5" width="19.6" height="21.58" fill="#ee3a44" stroke="#7a3a3a" stroke-width="0.5"/>
<rect x="491.45" y="186.08" width="19.6" height="87.42" fill="#6e6f70" stroke="#505050" stroke-width="0.7"/>
<line x1="491.45" y1="186.08" x2="511.05" y2="186.08" stroke="#4a3a3a" stroke-width="0.9"/>
<text class="w" x="501.35" y="194.68" font-size="8.6" font-weight="bold" text-anchor="middle" fill="#fff" textLength="14.1" lengthAdjust="spacingAndGlyphs" >80.2</text>
<line x1="501.25" y1="273.5" x2="501.25" y2="276.7" stroke="#333" stroke-width="0.9"/>
<line x1="489.5" y1="273.5" x2="489.5" y2="275.3" stroke="#333" stroke-width="0.9"/>
<text x="501.25" y="286.2" font-size="8.5" font-weight="normal" text-anchor="middle" fill="#111" textLength="11.23" lengthAdjust="spacingAndGlyphs" >0.8</text>
<rect x="515" y="164.5" width="19.6" height="19.73" fill="#ee3a44" stroke="#7a3a3a" stroke-width="0.5"/>
<rect x="515" y="184.23" width="19.6" height="89.27" fill="#6e6f70" stroke="#505050" stroke-width="0.7"/>
<line x1="515" y1="184.23" x2="534.6" y2="184.23" stroke="#4a3a3a" stroke-width="0.9"/>
<text class="w" x="524.9" y="192.83" font-size="8.6" font-weight="bold" text-anchor="middle" fill="#fff" textLength="14.1" lengthAdjust="spacingAndGlyphs" >81.9</text>
<line x1="524.8" y1="273.5" x2="524.8" y2="276.7" stroke="#333" stroke-width="0.9"/>
<line x1="513.05" y1="273.5" x2="513.05" y2="275.3" stroke="#333" stroke-width="0.9"/>
<text x="524.8" y="286.2" font-size="8.5" font-weight="normal" text-anchor="middle" fill="#111" textLength="4.49" lengthAdjust="spacingAndGlyphs" >1</text>
<line x1="536.55" y1="273.5" x2="536.55" y2="275.3" stroke="#333" stroke-width="0.9"/>
<text x="477.7" y="300.3" font-size="9.6" font-weight="bold" text-anchor="middle" fill="#111" textLength="77" lengthAdjust="spacingAndGlyphs">Scan Rate (mV s<tspan dy="-3.6" font-size="6">−1</tspan><tspan dy="3.6">)</tspan></text>
<text x="418.4" y="160.1" font-size="9.3" font-weight="bold" text-anchor="start" fill="#111" >(h)</text>
<line x1="32.5" y1="164.5" x2="32.5" y2="273.5" stroke="#333" stroke-width="1"/>
<line x1="159.7" y1="164.5" x2="159.7" y2="273.5" stroke="#333" stroke-width="1"/>
<line x1="286.9" y1="164.5" x2="286.9" y2="273.5" stroke="#333" stroke-width="1"/>
<line x1="414.1" y1="164.5" x2="414.1" y2="273.5" stroke="#333" stroke-width="1"/>
<line x1="541.3" y1="164.5" x2="541.3" y2="273.5" stroke="#333" stroke-width="1"/>
<line x1="28.9" y1="273.5" x2="32.5" y2="273.5" stroke="#333" stroke-width="0.9"/>
<line x1="541.3" y1="273.5" x2="544.9" y2="273.5" stroke="#333" stroke-width="0.9"/>
<text x="26.5" y="276.3" font-size="8.5" font-weight="normal" text-anchor="end" fill="#111" textLength="4.49" lengthAdjust="spacingAndGlyphs" >0</text>
<text x="547.3" y="276.3" font-size="8.5" font-weight="normal" text-anchor="start" fill="#111" textLength="4.49" lengthAdjust="spacingAndGlyphs" >0</text>
<line x1="30.5" y1="268.05" x2="32.5" y2="268.05" stroke="#333" stroke-width="0.9"/>
<line x1="541.3" y1="268.05" x2="543.3" y2="268.05" stroke="#333" stroke-width="0.9"/>
<line x1="30.5" y1="262.6" x2="32.5" y2="262.6" stroke="#333" stroke-width="0.9"/>
<line x1="541.3" y1="262.6" x2="543.3" y2="262.6" stroke="#333" stroke-width="0.9"/>
<line x1="30.5" y1="257.15" x2="32.5" y2="257.15" stroke="#333" stroke-width="0.9"/>
<line x1="541.3" y1="257.15" x2="543.3" y2="257.15" stroke="#333" stroke-width="0.9"/>
<line x1="28.9" y1="251.7" x2="32.5" y2="251.7" stroke="#333" stroke-width="0.9"/>
<line x1="541.3" y1="251.7" x2="544.9" y2="251.7" stroke="#333" stroke-width="0.9"/>
<text x="26.5" y="254.5" font-size="8.5" font-weight="normal" text-anchor="end" fill="#111" textLength="8.98" lengthAdjust="spacingAndGlyphs" >20</text>
<text x="547.3" y="254.5" font-size="8.5" font-weight="normal" text-anchor="start" fill="#111" textLength="8.98" lengthAdjust="spacingAndGlyphs" >20</text>
<line x1="30.5" y1="246.25" x2="32.5" y2="246.25" stroke="#333" stroke-width="0.9"/>
<line x1="541.3" y1="246.25" x2="543.3" y2="246.25" stroke="#333" stroke-width="0.9"/>
<line x1="30.5" y1="240.8" x2="32.5" y2="240.8" stroke="#333" stroke-width="0.9"/>
<line x1="541.3" y1="240.8" x2="543.3" y2="240.8" stroke="#333" stroke-width="0.9"/>
<line x1="30.5" y1="235.35" x2="32.5" y2="235.35" stroke="#333" stroke-width="0.9"/>
<line x1="541.3" y1="235.35" x2="543.3" y2="235.35" stroke="#333" stroke-width="0.9"/>
<line x1="28.9" y1="229.9" x2="32.5" y2="229.9" stroke="#333" stroke-width="0.9"/>
<line x1="541.3" y1="229.9" x2="544.9" y2="229.9" stroke="#333" stroke-width="0.9"/>
<text x="26.5" y="232.7" font-size="8.5" font-weight="normal" text-anchor="end" fill="#111" textLength="8.98" lengthAdjust="spacingAndGlyphs" >40</text>
<text x="547.3" y="232.7" font-size="8.5" font-weight="normal" text-anchor="start" fill="#111" textLength="8.98" lengthAdjust="spacingAndGlyphs" >40</text>
<line x1="30.5" y1="224.45" x2="32.5" y2="224.45" stroke="#333" stroke-width="0.9"/>
<line x1="541.3" y1="224.45" x2="543.3" y2="224.45" stroke="#333" stroke-width="0.9"/>
<line x1="30.5" y1="219" x2="32.5" y2="219" stroke="#333" stroke-width="0.9"/>
<line x1="541.3" y1="219" x2="543.3" y2="219" stroke="#333" stroke-width="0.9"/>
<line x1="30.5" y1="213.55" x2="32.5" y2="213.55" stroke="#333" stroke-width="0.9"/>
<line x1="541.3" y1="213.55" x2="543.3" y2="213.55" stroke="#333" stroke-width="0.9"/>
<line x1="28.9" y1="208.1" x2="32.5" y2="208.1" stroke="#333" stroke-width="0.9"/>
<line x1="541.3" y1="208.1" x2="544.9" y2="208.1" stroke="#333" stroke-width="0.9"/>
<text x="26.5" y="210.9" font-size="8.5" font-weight="normal" text-anchor="end" fill="#111" textLength="8.98" lengthAdjust="spacingAndGlyphs" >60</text>
<text x="547.3" y="210.9" font-size="8.5" font-weight="normal" text-anchor="start" fill="#111" textLength="8.98" lengthAdjust="spacingAndGlyphs" >60</text>
<line x1="30.5" y1="202.65" x2="32.5" y2="202.65" stroke="#333" stroke-width="0.9"/>
<line x1="541.3" y1="202.65" x2="543.3" y2="202.65" stroke="#333" stroke-width="0.9"/>
<line x1="30.5" y1="197.2" x2="32.5" y2="197.2" stroke="#333" stroke-width="0.9"/>
<line x1="541.3" y1="197.2" x2="543.3" y2="197.2" stroke="#333" stroke-width="0.9"/>
<line x1="30.5" y1="191.75" x2="32.5" y2="191.75" stroke="#333" stroke-width="0.9"/>
<line x1="541.3" y1="191.75" x2="543.3" y2="191.75" stroke="#333" stroke-width="0.9"/>
<line x1="28.9" y1="186.3" x2="32.5" y2="186.3" stroke="#333" stroke-width="0.9"/>
<line x1="541.3" y1="186.3" x2="544.9" y2="186.3" stroke="#333" stroke-width="0.9"/>
<text x="26.5" y="189.1" font-size="8.5" font-weight="normal" text-anchor="end" fill="#111" textLength="8.98" lengthAdjust="spacingAndGlyphs" >80</text>
<text x="547.3" y="189.1" font-size="8.5" font-weight="normal" text-anchor="start" fill="#111" textLength="8.98" lengthAdjust="spacingAndGlyphs" >80</text>
<line x1="30.5" y1="180.85" x2="32.5" y2="180.85" stroke="#333" stroke-width="0.9"/>
<line x1="541.3" y1="180.85" x2="543.3" y2="180.85" stroke="#333" stroke-width="0.9"/>
<line x1="30.5" y1="175.4" x2="32.5" y2="175.4" stroke="#333" stroke-width="0.9"/>
<line x1="541.3" y1="175.4" x2="543.3" y2="175.4" stroke="#333" stroke-width="0.9"/>
<line x1="30.5" y1="169.95" x2="32.5" y2="169.95" stroke="#333" stroke-width="0.9"/>
<line x1="541.3" y1="169.95" x2="543.3" y2="169.95" stroke="#333" stroke-width="0.9"/>
<line x1="28.9" y1="164.5" x2="32.5" y2="164.5" stroke="#333" stroke-width="0.9"/>
<line x1="541.3" y1="164.5" x2="544.9" y2="164.5" stroke="#333" stroke-width="0.9"/>
<text x="26.5" y="167.3" font-size="8.5" font-weight="normal" text-anchor="end" fill="#111" textLength="13.47" lengthAdjust="spacingAndGlyphs" >100</text>
<text x="547.3" y="167.3" font-size="8.5" font-weight="normal" text-anchor="start" fill="#111" textLength="13.47" lengthAdjust="spacingAndGlyphs" >100</text>
<line x1="28.9" y1="164.5" x2="544.9" y2="164.5" stroke="#333" stroke-width="1"/>
<line x1="32.5" y1="273.5" x2="541.3" y2="273.5" stroke="#333" stroke-width="1"/>
<text transform="translate(10.4,219.4) rotate(-90)" font-size="9" font-weight="bold" text-anchor="middle" fill="#111" textLength="103.5" lengthAdjust="spacingAndGlyphs">Current Contribution (%)</text>
<text transform="translate(570.5,217.8) rotate(-90)" font-size="9" font-weight="bold" text-anchor="middle" fill="#111" textLength="105.5" lengthAdjust="spacingAndGlyphs">Current Contribution (%)</text>
<rect x="223.3" y="307" width="20" height="8" fill="#ee3a44" stroke="#777" stroke-width="0.6"/>
<text x="246" y="314.3" font-size="8.2" font-weight="bold" text-anchor="start" fill="#111" textLength="32.5" lengthAdjust="spacingAndGlyphs" >Diffusive</text>
<rect x="286" y="307" width="19.5" height="8" fill="#6e6f70" stroke="#777" stroke-width="0.6"/>
<text x="308.7" y="314.3" font-size="8.2" font-weight="bold" text-anchor="start" fill="#111" textLength="37.7" lengthAdjust="spacingAndGlyphs" >Capacitive</text>
</g>
</svg></body></html>
